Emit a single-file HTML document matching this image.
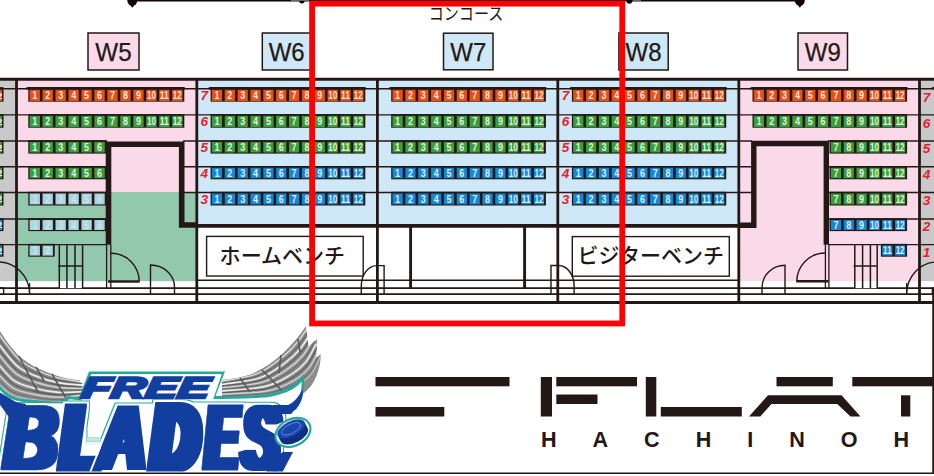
<!DOCTYPE html>
<html lang="ja">
<head>
<meta charset="utf-8">
<title>FLAT HACHINOHE 座席表</title>
<style>
html,body{margin:0;padding:0;background:#fff;}
body{width:934px;height:476px;overflow:hidden;}
svg{display:block;}
text{font-family:"Liberation Sans","Noto Sans CJK JP",sans-serif;}
text.jp{font-family:"Liberation Sans","IPAGothic","Noto Sans CJK JP",sans-serif;}
text.jpr{font-family:"Liberation Sans","Noto Sans CJK JP","IPAGothic",sans-serif;font-weight:400;}
text.jpb{font-family:"Liberation Sans","Noto Sans CJK JP","IPAGothic",sans-serif;font-weight:500;}
</style>
</head>
<body>
<svg width="934" height="476" viewBox="0 0 934 476">
<rect width="934" height="476" fill="#fff"/>
<rect x="0.00" y="79.50" width="16.50" height="214.70" fill="#c9c9c9" />
<rect x="919.50" y="79.50" width="14.50" height="214.70" fill="#c9c9c9" />
<rect x="16.50" y="79.50" width="180.30" height="112.90" fill="#fad9e8" />
<rect x="16.50" y="192.00" width="180.30" height="89.20" fill="#92c8ac" />
<rect x="196.80" y="79.50" width="542.00" height="146.00" fill="#cfe8f8" />
<rect x="738.80" y="79.50" width="180.70" height="201.70" fill="#fad9e8" />
<rect x="0.00" y="281.20" width="16.50" height="30.00" fill="#fff" />
<rect x="919.50" y="281.20" width="14.50" height="30.00" fill="#fff" />
<line x1="0.00" y1="88.80" x2="934.00" y2="88.80" stroke="#231815" stroke-width="1.4" />
<line x1="0.00" y1="114.85" x2="934.00" y2="114.85" stroke="#231815" stroke-width="1.4" />
<line x1="0.00" y1="141.00" x2="107.00" y2="141.00" stroke="#231815" stroke-width="1.4" />
<line x1="183.00" y1="141.00" x2="752.00" y2="141.00" stroke="#231815" stroke-width="1.4" />
<line x1="828.00" y1="141.00" x2="934.00" y2="141.00" stroke="#231815" stroke-width="1.4" />
<line x1="0.00" y1="166.80" x2="107.00" y2="166.80" stroke="#231815" stroke-width="1.4" />
<line x1="183.00" y1="166.80" x2="752.00" y2="166.80" stroke="#231815" stroke-width="1.4" />
<line x1="828.00" y1="166.80" x2="934.00" y2="166.80" stroke="#231815" stroke-width="1.4" />
<line x1="0.00" y1="192.50" x2="107.00" y2="192.50" stroke="#231815" stroke-width="1.4" />
<line x1="183.00" y1="192.50" x2="752.00" y2="192.50" stroke="#231815" stroke-width="1.4" />
<line x1="828.00" y1="192.50" x2="934.00" y2="192.50" stroke="#231815" stroke-width="1.4" />
<line x1="0.00" y1="219.00" x2="107.00" y2="219.00" stroke="#231815" stroke-width="1.4" />
<line x1="828.00" y1="219.00" x2="934.00" y2="219.00" stroke="#231815" stroke-width="1.4" />
<line x1="0.00" y1="244.60" x2="107.00" y2="244.60" stroke="#231815" stroke-width="1.4" />
<line x1="828.00" y1="244.60" x2="934.00" y2="244.60" stroke="#231815" stroke-width="1.4" />
<rect x="-5.00" y="87.10" width="8.50" height="14.60" fill="#231815" />
<rect x="-5.00" y="89.80" width="7.00" height="11.30" fill="#ea5014" />
<text x="-2.6" y="98.85" font-size="9.6" fill="#fff" font-weight="700" textLength="4.7" lengthAdjust="spacingAndGlyphs">2</text>
<rect x="-5.00" y="114.10" width="8.50" height="13.65" fill="#231815" />
<rect x="-5.00" y="115.85" width="7.00" height="11.30" fill="#3a9f3b" />
<text x="-2.6" y="124.90" font-size="9.6" fill="#fff" font-weight="700" textLength="4.7" lengthAdjust="spacingAndGlyphs">2</text>
<rect x="-5.00" y="140.25" width="8.50" height="13.35" fill="#231815" />
<rect x="-5.00" y="142.00" width="7.00" height="10.50" fill="#3a9f3b" />
<text x="-2.6" y="150.65" font-size="9.6" fill="#fff" font-weight="700" textLength="4.7" lengthAdjust="spacingAndGlyphs">2</text>
<rect x="-5.00" y="166.05" width="8.50" height="13.25" fill="#231815" />
<rect x="-5.00" y="167.80" width="7.00" height="10.40" fill="#3a9f3b" />
<text x="-2.6" y="176.40" font-size="9.6" fill="#fff" font-weight="700" textLength="4.7" lengthAdjust="spacingAndGlyphs">2</text>
<rect x="-5.00" y="191.75" width="8.50" height="13.75" fill="#231815" />
<rect x="-5.00" y="193.50" width="7.00" height="10.90" fill="#3a9f3b" />
<text x="-2.6" y="202.35" font-size="9.6" fill="#fff" font-weight="700" textLength="4.7" lengthAdjust="spacingAndGlyphs">2</text>
<rect x="-5.00" y="218.25" width="8.50" height="12.85" fill="#231815" />
<rect x="-5.00" y="220.00" width="7.00" height="10.00" fill="#1488d8" />
<text x="-2.6" y="228.40" font-size="9.6" fill="#fff" font-weight="700" textLength="4.7" lengthAdjust="spacingAndGlyphs">2</text>
<rect x="-5.00" y="243.85" width="8.50" height="12.85" fill="#231815" />
<rect x="-5.00" y="245.60" width="7.00" height="10.00" fill="#1488d8" />
<text x="-2.6" y="254.00" font-size="9.6" fill="#fff" font-weight="700" textLength="4.7" lengthAdjust="spacingAndGlyphs">2</text>
<rect x="28.30" y="87.10" width="156.02" height="14.60" fill="#231815" />
<rect x="26.40" y="87.10" width="158.32" height="2.50" fill="#231815" />
<rect x="29.60" y="89.80" width="10.31" height="11.30" fill="#ea5014" />
<text x="32.26" y="99.10" font-size="10.2" fill="#fff" fill-opacity="0.88" font-weight="700" textLength="5.0" lengthAdjust="spacingAndGlyphs">1</text>
<rect x="42.56" y="89.80" width="10.31" height="11.30" fill="#ea5014" />
<text x="45.22" y="99.10" font-size="10.2" fill="#fff" fill-opacity="0.88" font-weight="700" textLength="5.0" lengthAdjust="spacingAndGlyphs">2</text>
<rect x="55.52" y="89.80" width="10.31" height="11.30" fill="#ea5014" />
<text x="58.18" y="99.10" font-size="10.2" fill="#fff" fill-opacity="0.88" font-weight="700" textLength="5.0" lengthAdjust="spacingAndGlyphs">3</text>
<rect x="68.48" y="89.80" width="10.31" height="11.30" fill="#ea5014" />
<text x="71.14" y="99.10" font-size="10.2" fill="#fff" fill-opacity="0.88" font-weight="700" textLength="5.0" lengthAdjust="spacingAndGlyphs">4</text>
<rect x="81.44" y="89.80" width="10.31" height="11.30" fill="#ea5014" />
<text x="84.09" y="99.10" font-size="10.2" fill="#fff" fill-opacity="0.88" font-weight="700" textLength="5.0" lengthAdjust="spacingAndGlyphs">5</text>
<rect x="94.40" y="89.80" width="10.31" height="11.30" fill="#ea5014" />
<text x="97.06" y="99.10" font-size="10.2" fill="#fff" fill-opacity="0.88" font-weight="700" textLength="5.0" lengthAdjust="spacingAndGlyphs">6</text>
<rect x="107.36" y="89.80" width="10.31" height="11.30" fill="#ea5014" />
<text x="110.02" y="99.10" font-size="10.2" fill="#fff" fill-opacity="0.88" font-weight="700" textLength="5.0" lengthAdjust="spacingAndGlyphs">7</text>
<rect x="120.32" y="89.80" width="10.31" height="11.30" fill="#ea5014" />
<text x="122.97" y="99.10" font-size="10.2" fill="#fff" fill-opacity="0.88" font-weight="700" textLength="5.0" lengthAdjust="spacingAndGlyphs">8</text>
<rect x="133.28" y="89.80" width="10.31" height="11.30" fill="#ea5014" />
<text x="135.94" y="99.10" font-size="10.2" fill="#fff" fill-opacity="0.88" font-weight="700" textLength="5.0" lengthAdjust="spacingAndGlyphs">9</text>
<rect x="146.24" y="89.80" width="10.31" height="11.30" fill="#ea5014" />
<text x="146.90" y="99.10" font-size="10.2" fill="#fff" fill-opacity="0.88" font-weight="700" textLength="9.0" lengthAdjust="spacingAndGlyphs">10</text>
<rect x="159.20" y="89.80" width="10.31" height="11.30" fill="#ea5014" />
<text x="159.86" y="99.10" font-size="10.2" fill="#fff" fill-opacity="0.88" font-weight="700" textLength="9.0" lengthAdjust="spacingAndGlyphs">11</text>
<rect x="172.16" y="89.80" width="10.31" height="11.30" fill="#ea5014" />
<text x="172.81" y="99.10" font-size="10.2" fill="#fff" fill-opacity="0.88" font-weight="700" textLength="9.0" lengthAdjust="spacingAndGlyphs">12</text>
<rect x="28.30" y="114.10" width="156.02" height="13.65" fill="#231815" />
<rect x="29.60" y="115.85" width="10.31" height="11.30" fill="#3a9f3b" />
<text x="32.26" y="125.15" font-size="10.2" fill="#fff" fill-opacity="0.88" font-weight="700" textLength="5.0" lengthAdjust="spacingAndGlyphs">1</text>
<rect x="42.56" y="115.85" width="10.31" height="11.30" fill="#3a9f3b" />
<text x="45.22" y="125.15" font-size="10.2" fill="#fff" fill-opacity="0.88" font-weight="700" textLength="5.0" lengthAdjust="spacingAndGlyphs">2</text>
<rect x="55.52" y="115.85" width="10.31" height="11.30" fill="#3a9f3b" />
<text x="58.18" y="125.15" font-size="10.2" fill="#fff" fill-opacity="0.88" font-weight="700" textLength="5.0" lengthAdjust="spacingAndGlyphs">3</text>
<rect x="68.48" y="115.85" width="10.31" height="11.30" fill="#3a9f3b" />
<text x="71.14" y="125.15" font-size="10.2" fill="#fff" fill-opacity="0.88" font-weight="700" textLength="5.0" lengthAdjust="spacingAndGlyphs">4</text>
<rect x="81.44" y="115.85" width="10.31" height="11.30" fill="#3a9f3b" />
<text x="84.09" y="125.15" font-size="10.2" fill="#fff" fill-opacity="0.88" font-weight="700" textLength="5.0" lengthAdjust="spacingAndGlyphs">5</text>
<rect x="94.40" y="115.85" width="10.31" height="11.30" fill="#3a9f3b" />
<text x="97.06" y="125.15" font-size="10.2" fill="#fff" fill-opacity="0.88" font-weight="700" textLength="5.0" lengthAdjust="spacingAndGlyphs">6</text>
<rect x="107.36" y="115.85" width="10.31" height="11.30" fill="#3a9f3b" />
<text x="110.02" y="125.15" font-size="10.2" fill="#fff" fill-opacity="0.88" font-weight="700" textLength="5.0" lengthAdjust="spacingAndGlyphs">7</text>
<rect x="120.32" y="115.85" width="10.31" height="11.30" fill="#3a9f3b" />
<text x="122.97" y="125.15" font-size="10.2" fill="#fff" fill-opacity="0.88" font-weight="700" textLength="5.0" lengthAdjust="spacingAndGlyphs">8</text>
<rect x="133.28" y="115.85" width="10.31" height="11.30" fill="#3a9f3b" />
<text x="135.94" y="125.15" font-size="10.2" fill="#fff" fill-opacity="0.88" font-weight="700" textLength="5.0" lengthAdjust="spacingAndGlyphs">9</text>
<rect x="146.24" y="115.85" width="10.31" height="11.30" fill="#3a9f3b" />
<text x="146.90" y="125.15" font-size="10.2" fill="#fff" fill-opacity="0.88" font-weight="700" textLength="9.0" lengthAdjust="spacingAndGlyphs">10</text>
<rect x="159.20" y="115.85" width="10.31" height="11.30" fill="#3a9f3b" />
<text x="159.86" y="125.15" font-size="10.2" fill="#fff" fill-opacity="0.88" font-weight="700" textLength="9.0" lengthAdjust="spacingAndGlyphs">11</text>
<rect x="172.16" y="115.85" width="10.31" height="11.30" fill="#3a9f3b" />
<text x="172.81" y="125.15" font-size="10.2" fill="#fff" fill-opacity="0.88" font-weight="700" textLength="9.0" lengthAdjust="spacingAndGlyphs">12</text>
<rect x="28.30" y="140.25" width="78.26" height="13.35" fill="#231815" />
<rect x="29.60" y="142.00" width="10.31" height="10.50" fill="#3a9f3b" />
<text x="32.26" y="150.90" font-size="10.2" fill="#fff" fill-opacity="0.88" font-weight="700" textLength="5.0" lengthAdjust="spacingAndGlyphs">1</text>
<rect x="42.56" y="142.00" width="10.31" height="10.50" fill="#3a9f3b" />
<text x="45.22" y="150.90" font-size="10.2" fill="#fff" fill-opacity="0.88" font-weight="700" textLength="5.0" lengthAdjust="spacingAndGlyphs">2</text>
<rect x="55.52" y="142.00" width="10.31" height="10.50" fill="#3a9f3b" />
<text x="58.18" y="150.90" font-size="10.2" fill="#fff" fill-opacity="0.88" font-weight="700" textLength="5.0" lengthAdjust="spacingAndGlyphs">3</text>
<rect x="68.48" y="142.00" width="10.31" height="10.50" fill="#3a9f3b" />
<text x="71.14" y="150.90" font-size="10.2" fill="#fff" fill-opacity="0.88" font-weight="700" textLength="5.0" lengthAdjust="spacingAndGlyphs">4</text>
<rect x="81.44" y="142.00" width="10.31" height="10.50" fill="#3a9f3b" />
<text x="84.09" y="150.90" font-size="10.2" fill="#fff" fill-opacity="0.88" font-weight="700" textLength="5.0" lengthAdjust="spacingAndGlyphs">5</text>
<rect x="94.40" y="142.00" width="10.31" height="10.50" fill="#3a9f3b" />
<text x="97.06" y="150.90" font-size="10.2" fill="#fff" fill-opacity="0.88" font-weight="700" textLength="5.0" lengthAdjust="spacingAndGlyphs">6</text>
<rect x="28.30" y="166.05" width="78.26" height="13.25" fill="#231815" />
<rect x="29.60" y="167.80" width="10.31" height="10.40" fill="#3a9f3b" />
<text x="32.26" y="176.65" font-size="10.2" fill="#fff" fill-opacity="0.88" font-weight="700" textLength="5.0" lengthAdjust="spacingAndGlyphs">1</text>
<rect x="42.56" y="167.80" width="10.31" height="10.40" fill="#3a9f3b" />
<text x="45.22" y="176.65" font-size="10.2" fill="#fff" fill-opacity="0.88" font-weight="700" textLength="5.0" lengthAdjust="spacingAndGlyphs">2</text>
<rect x="55.52" y="167.80" width="10.31" height="10.40" fill="#3a9f3b" />
<text x="58.18" y="176.65" font-size="10.2" fill="#fff" fill-opacity="0.88" font-weight="700" textLength="5.0" lengthAdjust="spacingAndGlyphs">3</text>
<rect x="68.48" y="167.80" width="10.31" height="10.40" fill="#3a9f3b" />
<text x="71.14" y="176.65" font-size="10.2" fill="#fff" fill-opacity="0.88" font-weight="700" textLength="5.0" lengthAdjust="spacingAndGlyphs">4</text>
<rect x="81.44" y="167.80" width="10.31" height="10.40" fill="#3a9f3b" />
<text x="84.09" y="176.65" font-size="10.2" fill="#fff" fill-opacity="0.88" font-weight="700" textLength="5.0" lengthAdjust="spacingAndGlyphs">5</text>
<rect x="94.40" y="167.80" width="10.31" height="10.40" fill="#3a9f3b" />
<text x="97.06" y="176.65" font-size="10.2" fill="#fff" fill-opacity="0.88" font-weight="700" textLength="5.0" lengthAdjust="spacingAndGlyphs">6</text>
<rect x="28.30" y="191.75" width="78.26" height="13.75" fill="#231815" />
<rect x="29.60" y="193.50" width="10.31" height="10.90" fill="#a6d4e0" />
<text x="32.26" y="202.60" font-size="10.2" fill="#d8e6ea" fill-opacity="0.88" font-weight="700" textLength="5.0" lengthAdjust="spacingAndGlyphs">1</text>
<rect x="42.56" y="193.50" width="10.31" height="10.90" fill="#a6d4e0" />
<text x="45.22" y="202.60" font-size="10.2" fill="#d8e6ea" fill-opacity="0.88" font-weight="700" textLength="5.0" lengthAdjust="spacingAndGlyphs">2</text>
<rect x="55.52" y="193.50" width="10.31" height="10.90" fill="#a6d4e0" />
<text x="58.18" y="202.60" font-size="10.2" fill="#d8e6ea" fill-opacity="0.88" font-weight="700" textLength="5.0" lengthAdjust="spacingAndGlyphs">3</text>
<rect x="68.48" y="193.50" width="10.31" height="10.90" fill="#a6d4e0" />
<text x="71.14" y="202.60" font-size="10.2" fill="#d8e6ea" fill-opacity="0.88" font-weight="700" textLength="5.0" lengthAdjust="spacingAndGlyphs">4</text>
<rect x="81.44" y="193.50" width="10.31" height="10.90" fill="#a6d4e0" />
<text x="84.09" y="202.60" font-size="10.2" fill="#d8e6ea" fill-opacity="0.88" font-weight="700" textLength="5.0" lengthAdjust="spacingAndGlyphs">5</text>
<rect x="94.40" y="193.50" width="10.31" height="10.90" fill="#a6d4e0" />
<text x="97.06" y="202.60" font-size="10.2" fill="#d8e6ea" fill-opacity="0.88" font-weight="700" textLength="5.0" lengthAdjust="spacingAndGlyphs">6</text>
<rect x="28.30" y="218.25" width="78.26" height="12.85" fill="#231815" />
<rect x="29.60" y="220.00" width="10.31" height="10.00" fill="#a6d4e0" />
<text x="32.26" y="228.65" font-size="10.2" fill="#d8e6ea" fill-opacity="0.88" font-weight="700" textLength="5.0" lengthAdjust="spacingAndGlyphs">1</text>
<rect x="42.56" y="220.00" width="10.31" height="10.00" fill="#a6d4e0" />
<text x="45.22" y="228.65" font-size="10.2" fill="#d8e6ea" fill-opacity="0.88" font-weight="700" textLength="5.0" lengthAdjust="spacingAndGlyphs">2</text>
<rect x="55.52" y="220.00" width="10.31" height="10.00" fill="#a6d4e0" />
<text x="58.18" y="228.65" font-size="10.2" fill="#d8e6ea" fill-opacity="0.88" font-weight="700" textLength="5.0" lengthAdjust="spacingAndGlyphs">3</text>
<rect x="68.48" y="220.00" width="10.31" height="10.00" fill="#a6d4e0" />
<text x="71.14" y="228.65" font-size="10.2" fill="#d8e6ea" fill-opacity="0.88" font-weight="700" textLength="5.0" lengthAdjust="spacingAndGlyphs">4</text>
<rect x="81.44" y="220.00" width="10.31" height="10.00" fill="#a6d4e0" />
<text x="84.09" y="228.65" font-size="10.2" fill="#d8e6ea" fill-opacity="0.88" font-weight="700" textLength="5.0" lengthAdjust="spacingAndGlyphs">5</text>
<rect x="94.40" y="220.00" width="10.31" height="10.00" fill="#a6d4e0" />
<text x="97.06" y="228.65" font-size="10.2" fill="#d8e6ea" fill-opacity="0.88" font-weight="700" textLength="5.0" lengthAdjust="spacingAndGlyphs">6</text>
<rect x="28.30" y="243.85" width="26.42" height="12.85" fill="#231815" />
<rect x="29.60" y="245.60" width="10.31" height="10.00" fill="#a6d4e0" />
<text x="32.26" y="254.25" font-size="10.2" fill="#d8e6ea" fill-opacity="0.88" font-weight="700" textLength="5.0" lengthAdjust="spacingAndGlyphs">1</text>
<rect x="42.56" y="245.60" width="10.31" height="10.00" fill="#a6d4e0" />
<text x="45.22" y="254.25" font-size="10.2" fill="#d8e6ea" fill-opacity="0.88" font-weight="700" textLength="5.0" lengthAdjust="spacingAndGlyphs">2</text>
<rect x="210.60" y="87.10" width="154.70" height="14.60" fill="#231815" />
<rect x="208.70" y="87.10" width="157.00" height="2.50" fill="#231815" />
<rect x="211.90" y="89.80" width="10.20" height="11.30" fill="#ea5014" />
<text x="214.50" y="99.10" font-size="10.2" fill="#fff" fill-opacity="0.88" font-weight="700" textLength="5.0" lengthAdjust="spacingAndGlyphs">1</text>
<rect x="224.75" y="89.80" width="10.20" height="11.30" fill="#ea5014" />
<text x="227.35" y="99.10" font-size="10.2" fill="#fff" fill-opacity="0.88" font-weight="700" textLength="5.0" lengthAdjust="spacingAndGlyphs">2</text>
<rect x="237.60" y="89.80" width="10.20" height="11.30" fill="#ea5014" />
<text x="240.20" y="99.10" font-size="10.2" fill="#fff" fill-opacity="0.88" font-weight="700" textLength="5.0" lengthAdjust="spacingAndGlyphs">3</text>
<rect x="250.45" y="89.80" width="10.20" height="11.30" fill="#ea5014" />
<text x="253.05" y="99.10" font-size="10.2" fill="#fff" fill-opacity="0.88" font-weight="700" textLength="5.0" lengthAdjust="spacingAndGlyphs">4</text>
<rect x="263.30" y="89.80" width="10.20" height="11.30" fill="#ea5014" />
<text x="265.90" y="99.10" font-size="10.2" fill="#fff" fill-opacity="0.88" font-weight="700" textLength="5.0" lengthAdjust="spacingAndGlyphs">5</text>
<rect x="276.15" y="89.80" width="10.20" height="11.30" fill="#ea5014" />
<text x="278.75" y="99.10" font-size="10.2" fill="#fff" fill-opacity="0.88" font-weight="700" textLength="5.0" lengthAdjust="spacingAndGlyphs">6</text>
<rect x="289.00" y="89.80" width="10.20" height="11.30" fill="#ea5014" />
<text x="291.60" y="99.10" font-size="10.2" fill="#fff" fill-opacity="0.88" font-weight="700" textLength="5.0" lengthAdjust="spacingAndGlyphs">7</text>
<rect x="301.85" y="89.80" width="10.20" height="11.30" fill="#ea5014" />
<text x="304.45" y="99.10" font-size="10.2" fill="#fff" fill-opacity="0.88" font-weight="700" textLength="5.0" lengthAdjust="spacingAndGlyphs">8</text>
<rect x="314.70" y="89.80" width="10.20" height="11.30" fill="#ea5014" />
<text x="317.30" y="99.10" font-size="10.2" fill="#fff" fill-opacity="0.88" font-weight="700" textLength="5.0" lengthAdjust="spacingAndGlyphs">9</text>
<rect x="327.55" y="89.80" width="10.20" height="11.30" fill="#ea5014" />
<text x="328.15" y="99.10" font-size="10.2" fill="#fff" fill-opacity="0.88" font-weight="700" textLength="9.0" lengthAdjust="spacingAndGlyphs">10</text>
<rect x="340.40" y="89.80" width="10.20" height="11.30" fill="#ea5014" />
<text x="341.00" y="99.10" font-size="10.2" fill="#fff" fill-opacity="0.88" font-weight="700" textLength="9.0" lengthAdjust="spacingAndGlyphs">11</text>
<rect x="353.25" y="89.80" width="10.20" height="11.30" fill="#ea5014" />
<text x="353.85" y="99.10" font-size="10.2" fill="#fff" fill-opacity="0.88" font-weight="700" textLength="9.0" lengthAdjust="spacingAndGlyphs">12</text>
<text x="204.20" y="100.35" font-size="13.6" fill="#ec1c2e" font-weight="700" font-style="italic" text-anchor="middle">7</text>
<rect x="210.60" y="114.10" width="154.70" height="13.65" fill="#231815" />
<rect x="211.90" y="115.85" width="10.20" height="11.30" fill="#3a9f3b" />
<text x="214.50" y="125.15" font-size="10.2" fill="#fff" fill-opacity="0.88" font-weight="700" textLength="5.0" lengthAdjust="spacingAndGlyphs">1</text>
<rect x="224.75" y="115.85" width="10.20" height="11.30" fill="#3a9f3b" />
<text x="227.35" y="125.15" font-size="10.2" fill="#fff" fill-opacity="0.88" font-weight="700" textLength="5.0" lengthAdjust="spacingAndGlyphs">2</text>
<rect x="237.60" y="115.85" width="10.20" height="11.30" fill="#3a9f3b" />
<text x="240.20" y="125.15" font-size="10.2" fill="#fff" fill-opacity="0.88" font-weight="700" textLength="5.0" lengthAdjust="spacingAndGlyphs">3</text>
<rect x="250.45" y="115.85" width="10.20" height="11.30" fill="#3a9f3b" />
<text x="253.05" y="125.15" font-size="10.2" fill="#fff" fill-opacity="0.88" font-weight="700" textLength="5.0" lengthAdjust="spacingAndGlyphs">4</text>
<rect x="263.30" y="115.85" width="10.20" height="11.30" fill="#3a9f3b" />
<text x="265.90" y="125.15" font-size="10.2" fill="#fff" fill-opacity="0.88" font-weight="700" textLength="5.0" lengthAdjust="spacingAndGlyphs">5</text>
<rect x="276.15" y="115.85" width="10.20" height="11.30" fill="#3a9f3b" />
<text x="278.75" y="125.15" font-size="10.2" fill="#fff" fill-opacity="0.88" font-weight="700" textLength="5.0" lengthAdjust="spacingAndGlyphs">6</text>
<rect x="289.00" y="115.85" width="10.20" height="11.30" fill="#3a9f3b" />
<text x="291.60" y="125.15" font-size="10.2" fill="#fff" fill-opacity="0.88" font-weight="700" textLength="5.0" lengthAdjust="spacingAndGlyphs">7</text>
<rect x="301.85" y="115.85" width="10.20" height="11.30" fill="#3a9f3b" />
<text x="304.45" y="125.15" font-size="10.2" fill="#fff" fill-opacity="0.88" font-weight="700" textLength="5.0" lengthAdjust="spacingAndGlyphs">8</text>
<rect x="314.70" y="115.85" width="10.20" height="11.30" fill="#3a9f3b" />
<text x="317.30" y="125.15" font-size="10.2" fill="#fff" fill-opacity="0.88" font-weight="700" textLength="5.0" lengthAdjust="spacingAndGlyphs">9</text>
<rect x="327.55" y="115.85" width="10.20" height="11.30" fill="#3a9f3b" />
<text x="328.15" y="125.15" font-size="10.2" fill="#fff" fill-opacity="0.88" font-weight="700" textLength="9.0" lengthAdjust="spacingAndGlyphs">10</text>
<rect x="340.40" y="115.85" width="10.20" height="11.30" fill="#3a9f3b" />
<text x="341.00" y="125.15" font-size="10.2" fill="#fff" fill-opacity="0.88" font-weight="700" textLength="9.0" lengthAdjust="spacingAndGlyphs">11</text>
<rect x="353.25" y="115.85" width="10.20" height="11.30" fill="#3a9f3b" />
<text x="353.85" y="125.15" font-size="10.2" fill="#fff" fill-opacity="0.88" font-weight="700" textLength="9.0" lengthAdjust="spacingAndGlyphs">12</text>
<text x="204.20" y="126.40" font-size="13.6" fill="#ec1c2e" font-weight="700" font-style="italic" text-anchor="middle">6</text>
<rect x="210.60" y="140.25" width="154.70" height="13.35" fill="#231815" />
<rect x="211.90" y="142.00" width="10.20" height="10.50" fill="#3a9f3b" />
<text x="214.50" y="150.90" font-size="10.2" fill="#fff" fill-opacity="0.88" font-weight="700" textLength="5.0" lengthAdjust="spacingAndGlyphs">1</text>
<rect x="224.75" y="142.00" width="10.20" height="10.50" fill="#3a9f3b" />
<text x="227.35" y="150.90" font-size="10.2" fill="#fff" fill-opacity="0.88" font-weight="700" textLength="5.0" lengthAdjust="spacingAndGlyphs">2</text>
<rect x="237.60" y="142.00" width="10.20" height="10.50" fill="#3a9f3b" />
<text x="240.20" y="150.90" font-size="10.2" fill="#fff" fill-opacity="0.88" font-weight="700" textLength="5.0" lengthAdjust="spacingAndGlyphs">3</text>
<rect x="250.45" y="142.00" width="10.20" height="10.50" fill="#3a9f3b" />
<text x="253.05" y="150.90" font-size="10.2" fill="#fff" fill-opacity="0.88" font-weight="700" textLength="5.0" lengthAdjust="spacingAndGlyphs">4</text>
<rect x="263.30" y="142.00" width="10.20" height="10.50" fill="#3a9f3b" />
<text x="265.90" y="150.90" font-size="10.2" fill="#fff" fill-opacity="0.88" font-weight="700" textLength="5.0" lengthAdjust="spacingAndGlyphs">5</text>
<rect x="276.15" y="142.00" width="10.20" height="10.50" fill="#3a9f3b" />
<text x="278.75" y="150.90" font-size="10.2" fill="#fff" fill-opacity="0.88" font-weight="700" textLength="5.0" lengthAdjust="spacingAndGlyphs">6</text>
<rect x="289.00" y="142.00" width="10.20" height="10.50" fill="#3a9f3b" />
<text x="291.60" y="150.90" font-size="10.2" fill="#fff" fill-opacity="0.88" font-weight="700" textLength="5.0" lengthAdjust="spacingAndGlyphs">7</text>
<rect x="301.85" y="142.00" width="10.20" height="10.50" fill="#3a9f3b" />
<text x="304.45" y="150.90" font-size="10.2" fill="#fff" fill-opacity="0.88" font-weight="700" textLength="5.0" lengthAdjust="spacingAndGlyphs">8</text>
<rect x="314.70" y="142.00" width="10.20" height="10.50" fill="#3a9f3b" />
<text x="317.30" y="150.90" font-size="10.2" fill="#fff" fill-opacity="0.88" font-weight="700" textLength="5.0" lengthAdjust="spacingAndGlyphs">9</text>
<rect x="327.55" y="142.00" width="10.20" height="10.50" fill="#3a9f3b" />
<text x="328.15" y="150.90" font-size="10.2" fill="#fff" fill-opacity="0.88" font-weight="700" textLength="9.0" lengthAdjust="spacingAndGlyphs">10</text>
<rect x="340.40" y="142.00" width="10.20" height="10.50" fill="#3a9f3b" />
<text x="341.00" y="150.90" font-size="10.2" fill="#fff" fill-opacity="0.88" font-weight="700" textLength="9.0" lengthAdjust="spacingAndGlyphs">11</text>
<rect x="353.25" y="142.00" width="10.20" height="10.50" fill="#3a9f3b" />
<text x="353.85" y="150.90" font-size="10.2" fill="#fff" fill-opacity="0.88" font-weight="700" textLength="9.0" lengthAdjust="spacingAndGlyphs">12</text>
<text x="204.20" y="152.15" font-size="13.6" fill="#ec1c2e" font-weight="700" font-style="italic" text-anchor="middle">5</text>
<rect x="210.60" y="166.05" width="154.70" height="13.25" fill="#231815" />
<rect x="211.90" y="167.80" width="10.20" height="10.40" fill="#1488d8" />
<text x="214.50" y="176.65" font-size="10.2" fill="#fff" fill-opacity="0.88" font-weight="700" textLength="5.0" lengthAdjust="spacingAndGlyphs">1</text>
<rect x="224.75" y="167.80" width="10.20" height="10.40" fill="#1488d8" />
<text x="227.35" y="176.65" font-size="10.2" fill="#fff" fill-opacity="0.88" font-weight="700" textLength="5.0" lengthAdjust="spacingAndGlyphs">2</text>
<rect x="237.60" y="167.80" width="10.20" height="10.40" fill="#1488d8" />
<text x="240.20" y="176.65" font-size="10.2" fill="#fff" fill-opacity="0.88" font-weight="700" textLength="5.0" lengthAdjust="spacingAndGlyphs">3</text>
<rect x="250.45" y="167.80" width="10.20" height="10.40" fill="#1488d8" />
<text x="253.05" y="176.65" font-size="10.2" fill="#fff" fill-opacity="0.88" font-weight="700" textLength="5.0" lengthAdjust="spacingAndGlyphs">4</text>
<rect x="263.30" y="167.80" width="10.20" height="10.40" fill="#1488d8" />
<text x="265.90" y="176.65" font-size="10.2" fill="#fff" fill-opacity="0.88" font-weight="700" textLength="5.0" lengthAdjust="spacingAndGlyphs">5</text>
<rect x="276.15" y="167.80" width="10.20" height="10.40" fill="#1488d8" />
<text x="278.75" y="176.65" font-size="10.2" fill="#fff" fill-opacity="0.88" font-weight="700" textLength="5.0" lengthAdjust="spacingAndGlyphs">6</text>
<rect x="289.00" y="167.80" width="10.20" height="10.40" fill="#1488d8" />
<text x="291.60" y="176.65" font-size="10.2" fill="#fff" fill-opacity="0.88" font-weight="700" textLength="5.0" lengthAdjust="spacingAndGlyphs">7</text>
<rect x="301.85" y="167.80" width="10.20" height="10.40" fill="#1488d8" />
<text x="304.45" y="176.65" font-size="10.2" fill="#fff" fill-opacity="0.88" font-weight="700" textLength="5.0" lengthAdjust="spacingAndGlyphs">8</text>
<rect x="314.70" y="167.80" width="10.20" height="10.40" fill="#1488d8" />
<text x="317.30" y="176.65" font-size="10.2" fill="#fff" fill-opacity="0.88" font-weight="700" textLength="5.0" lengthAdjust="spacingAndGlyphs">9</text>
<rect x="327.55" y="167.80" width="10.20" height="10.40" fill="#1488d8" />
<text x="328.15" y="176.65" font-size="10.2" fill="#fff" fill-opacity="0.88" font-weight="700" textLength="9.0" lengthAdjust="spacingAndGlyphs">10</text>
<rect x="340.40" y="167.80" width="10.20" height="10.40" fill="#1488d8" />
<text x="341.00" y="176.65" font-size="10.2" fill="#fff" fill-opacity="0.88" font-weight="700" textLength="9.0" lengthAdjust="spacingAndGlyphs">11</text>
<rect x="353.25" y="167.80" width="10.20" height="10.40" fill="#1488d8" />
<text x="353.85" y="176.65" font-size="10.2" fill="#fff" fill-opacity="0.88" font-weight="700" textLength="9.0" lengthAdjust="spacingAndGlyphs">12</text>
<text x="204.20" y="177.90" font-size="13.6" fill="#ec1c2e" font-weight="700" font-style="italic" text-anchor="middle">4</text>
<rect x="210.60" y="191.75" width="154.70" height="13.75" fill="#231815" />
<rect x="211.90" y="193.50" width="10.20" height="10.90" fill="#1488d8" />
<text x="214.50" y="202.60" font-size="10.2" fill="#fff" fill-opacity="0.88" font-weight="700" textLength="5.0" lengthAdjust="spacingAndGlyphs">1</text>
<rect x="224.75" y="193.50" width="10.20" height="10.90" fill="#1488d8" />
<text x="227.35" y="202.60" font-size="10.2" fill="#fff" fill-opacity="0.88" font-weight="700" textLength="5.0" lengthAdjust="spacingAndGlyphs">2</text>
<rect x="237.60" y="193.50" width="10.20" height="10.90" fill="#1488d8" />
<text x="240.20" y="202.60" font-size="10.2" fill="#fff" fill-opacity="0.88" font-weight="700" textLength="5.0" lengthAdjust="spacingAndGlyphs">3</text>
<rect x="250.45" y="193.50" width="10.20" height="10.90" fill="#1488d8" />
<text x="253.05" y="202.60" font-size="10.2" fill="#fff" fill-opacity="0.88" font-weight="700" textLength="5.0" lengthAdjust="spacingAndGlyphs">4</text>
<rect x="263.30" y="193.50" width="10.20" height="10.90" fill="#1488d8" />
<text x="265.90" y="202.60" font-size="10.2" fill="#fff" fill-opacity="0.88" font-weight="700" textLength="5.0" lengthAdjust="spacingAndGlyphs">5</text>
<rect x="276.15" y="193.50" width="10.20" height="10.90" fill="#1488d8" />
<text x="278.75" y="202.60" font-size="10.2" fill="#fff" fill-opacity="0.88" font-weight="700" textLength="5.0" lengthAdjust="spacingAndGlyphs">6</text>
<rect x="289.00" y="193.50" width="10.20" height="10.90" fill="#1488d8" />
<text x="291.60" y="202.60" font-size="10.2" fill="#fff" fill-opacity="0.88" font-weight="700" textLength="5.0" lengthAdjust="spacingAndGlyphs">7</text>
<rect x="301.85" y="193.50" width="10.20" height="10.90" fill="#1488d8" />
<text x="304.45" y="202.60" font-size="10.2" fill="#fff" fill-opacity="0.88" font-weight="700" textLength="5.0" lengthAdjust="spacingAndGlyphs">8</text>
<rect x="314.70" y="193.50" width="10.20" height="10.90" fill="#1488d8" />
<text x="317.30" y="202.60" font-size="10.2" fill="#fff" fill-opacity="0.88" font-weight="700" textLength="5.0" lengthAdjust="spacingAndGlyphs">9</text>
<rect x="327.55" y="193.50" width="10.20" height="10.90" fill="#1488d8" />
<text x="328.15" y="202.60" font-size="10.2" fill="#fff" fill-opacity="0.88" font-weight="700" textLength="9.0" lengthAdjust="spacingAndGlyphs">10</text>
<rect x="340.40" y="193.50" width="10.20" height="10.90" fill="#1488d8" />
<text x="341.00" y="202.60" font-size="10.2" fill="#fff" fill-opacity="0.88" font-weight="700" textLength="9.0" lengthAdjust="spacingAndGlyphs">11</text>
<rect x="353.25" y="193.50" width="10.20" height="10.90" fill="#1488d8" />
<text x="353.85" y="202.60" font-size="10.2" fill="#fff" fill-opacity="0.88" font-weight="700" textLength="9.0" lengthAdjust="spacingAndGlyphs">12</text>
<text x="204.20" y="203.85" font-size="13.6" fill="#ec1c2e" font-weight="700" font-style="italic" text-anchor="middle">3</text>
<rect x="391.20" y="87.10" width="154.70" height="14.60" fill="#231815" />
<rect x="389.30" y="87.10" width="157.00" height="2.50" fill="#231815" />
<rect x="392.50" y="89.80" width="10.20" height="11.30" fill="#ea5014" />
<text x="395.10" y="99.10" font-size="10.2" fill="#fff" fill-opacity="0.88" font-weight="700" textLength="5.0" lengthAdjust="spacingAndGlyphs">1</text>
<rect x="405.35" y="89.80" width="10.20" height="11.30" fill="#ea5014" />
<text x="407.95" y="99.10" font-size="10.2" fill="#fff" fill-opacity="0.88" font-weight="700" textLength="5.0" lengthAdjust="spacingAndGlyphs">2</text>
<rect x="418.20" y="89.80" width="10.20" height="11.30" fill="#ea5014" />
<text x="420.80" y="99.10" font-size="10.2" fill="#fff" fill-opacity="0.88" font-weight="700" textLength="5.0" lengthAdjust="spacingAndGlyphs">3</text>
<rect x="431.05" y="89.80" width="10.20" height="11.30" fill="#ea5014" />
<text x="433.65" y="99.10" font-size="10.2" fill="#fff" fill-opacity="0.88" font-weight="700" textLength="5.0" lengthAdjust="spacingAndGlyphs">4</text>
<rect x="443.90" y="89.80" width="10.20" height="11.30" fill="#ea5014" />
<text x="446.50" y="99.10" font-size="10.2" fill="#fff" fill-opacity="0.88" font-weight="700" textLength="5.0" lengthAdjust="spacingAndGlyphs">5</text>
<rect x="456.75" y="89.80" width="10.20" height="11.30" fill="#ea5014" />
<text x="459.35" y="99.10" font-size="10.2" fill="#fff" fill-opacity="0.88" font-weight="700" textLength="5.0" lengthAdjust="spacingAndGlyphs">6</text>
<rect x="469.60" y="89.80" width="10.20" height="11.30" fill="#ea5014" />
<text x="472.20" y="99.10" font-size="10.2" fill="#fff" fill-opacity="0.88" font-weight="700" textLength="5.0" lengthAdjust="spacingAndGlyphs">7</text>
<rect x="482.45" y="89.80" width="10.20" height="11.30" fill="#ea5014" />
<text x="485.05" y="99.10" font-size="10.2" fill="#fff" fill-opacity="0.88" font-weight="700" textLength="5.0" lengthAdjust="spacingAndGlyphs">8</text>
<rect x="495.30" y="89.80" width="10.20" height="11.30" fill="#ea5014" />
<text x="497.90" y="99.10" font-size="10.2" fill="#fff" fill-opacity="0.88" font-weight="700" textLength="5.0" lengthAdjust="spacingAndGlyphs">9</text>
<rect x="508.15" y="89.80" width="10.20" height="11.30" fill="#ea5014" />
<text x="508.75" y="99.10" font-size="10.2" fill="#fff" fill-opacity="0.88" font-weight="700" textLength="9.0" lengthAdjust="spacingAndGlyphs">10</text>
<rect x="521.00" y="89.80" width="10.20" height="11.30" fill="#ea5014" />
<text x="521.60" y="99.10" font-size="10.2" fill="#fff" fill-opacity="0.88" font-weight="700" textLength="9.0" lengthAdjust="spacingAndGlyphs">11</text>
<rect x="533.85" y="89.80" width="10.20" height="11.30" fill="#ea5014" />
<text x="534.45" y="99.10" font-size="10.2" fill="#fff" fill-opacity="0.88" font-weight="700" textLength="9.0" lengthAdjust="spacingAndGlyphs">12</text>
<rect x="391.20" y="114.10" width="154.70" height="13.65" fill="#231815" />
<rect x="392.50" y="115.85" width="10.20" height="11.30" fill="#3a9f3b" />
<text x="395.10" y="125.15" font-size="10.2" fill="#fff" fill-opacity="0.88" font-weight="700" textLength="5.0" lengthAdjust="spacingAndGlyphs">1</text>
<rect x="405.35" y="115.85" width="10.20" height="11.30" fill="#3a9f3b" />
<text x="407.95" y="125.15" font-size="10.2" fill="#fff" fill-opacity="0.88" font-weight="700" textLength="5.0" lengthAdjust="spacingAndGlyphs">2</text>
<rect x="418.20" y="115.85" width="10.20" height="11.30" fill="#3a9f3b" />
<text x="420.80" y="125.15" font-size="10.2" fill="#fff" fill-opacity="0.88" font-weight="700" textLength="5.0" lengthAdjust="spacingAndGlyphs">3</text>
<rect x="431.05" y="115.85" width="10.20" height="11.30" fill="#3a9f3b" />
<text x="433.65" y="125.15" font-size="10.2" fill="#fff" fill-opacity="0.88" font-weight="700" textLength="5.0" lengthAdjust="spacingAndGlyphs">4</text>
<rect x="443.90" y="115.85" width="10.20" height="11.30" fill="#3a9f3b" />
<text x="446.50" y="125.15" font-size="10.2" fill="#fff" fill-opacity="0.88" font-weight="700" textLength="5.0" lengthAdjust="spacingAndGlyphs">5</text>
<rect x="456.75" y="115.85" width="10.20" height="11.30" fill="#3a9f3b" />
<text x="459.35" y="125.15" font-size="10.2" fill="#fff" fill-opacity="0.88" font-weight="700" textLength="5.0" lengthAdjust="spacingAndGlyphs">6</text>
<rect x="469.60" y="115.85" width="10.20" height="11.30" fill="#3a9f3b" />
<text x="472.20" y="125.15" font-size="10.2" fill="#fff" fill-opacity="0.88" font-weight="700" textLength="5.0" lengthAdjust="spacingAndGlyphs">7</text>
<rect x="482.45" y="115.85" width="10.20" height="11.30" fill="#3a9f3b" />
<text x="485.05" y="125.15" font-size="10.2" fill="#fff" fill-opacity="0.88" font-weight="700" textLength="5.0" lengthAdjust="spacingAndGlyphs">8</text>
<rect x="495.30" y="115.85" width="10.20" height="11.30" fill="#3a9f3b" />
<text x="497.90" y="125.15" font-size="10.2" fill="#fff" fill-opacity="0.88" font-weight="700" textLength="5.0" lengthAdjust="spacingAndGlyphs">9</text>
<rect x="508.15" y="115.85" width="10.20" height="11.30" fill="#3a9f3b" />
<text x="508.75" y="125.15" font-size="10.2" fill="#fff" fill-opacity="0.88" font-weight="700" textLength="9.0" lengthAdjust="spacingAndGlyphs">10</text>
<rect x="521.00" y="115.85" width="10.20" height="11.30" fill="#3a9f3b" />
<text x="521.60" y="125.15" font-size="10.2" fill="#fff" fill-opacity="0.88" font-weight="700" textLength="9.0" lengthAdjust="spacingAndGlyphs">11</text>
<rect x="533.85" y="115.85" width="10.20" height="11.30" fill="#3a9f3b" />
<text x="534.45" y="125.15" font-size="10.2" fill="#fff" fill-opacity="0.88" font-weight="700" textLength="9.0" lengthAdjust="spacingAndGlyphs">12</text>
<rect x="391.20" y="140.25" width="154.70" height="13.35" fill="#231815" />
<rect x="392.50" y="142.00" width="10.20" height="10.50" fill="#3a9f3b" />
<text x="395.10" y="150.90" font-size="10.2" fill="#fff" fill-opacity="0.88" font-weight="700" textLength="5.0" lengthAdjust="spacingAndGlyphs">1</text>
<rect x="405.35" y="142.00" width="10.20" height="10.50" fill="#3a9f3b" />
<text x="407.95" y="150.90" font-size="10.2" fill="#fff" fill-opacity="0.88" font-weight="700" textLength="5.0" lengthAdjust="spacingAndGlyphs">2</text>
<rect x="418.20" y="142.00" width="10.20" height="10.50" fill="#3a9f3b" />
<text x="420.80" y="150.90" font-size="10.2" fill="#fff" fill-opacity="0.88" font-weight="700" textLength="5.0" lengthAdjust="spacingAndGlyphs">3</text>
<rect x="431.05" y="142.00" width="10.20" height="10.50" fill="#3a9f3b" />
<text x="433.65" y="150.90" font-size="10.2" fill="#fff" fill-opacity="0.88" font-weight="700" textLength="5.0" lengthAdjust="spacingAndGlyphs">4</text>
<rect x="443.90" y="142.00" width="10.20" height="10.50" fill="#3a9f3b" />
<text x="446.50" y="150.90" font-size="10.2" fill="#fff" fill-opacity="0.88" font-weight="700" textLength="5.0" lengthAdjust="spacingAndGlyphs">5</text>
<rect x="456.75" y="142.00" width="10.20" height="10.50" fill="#3a9f3b" />
<text x="459.35" y="150.90" font-size="10.2" fill="#fff" fill-opacity="0.88" font-weight="700" textLength="5.0" lengthAdjust="spacingAndGlyphs">6</text>
<rect x="469.60" y="142.00" width="10.20" height="10.50" fill="#3a9f3b" />
<text x="472.20" y="150.90" font-size="10.2" fill="#fff" fill-opacity="0.88" font-weight="700" textLength="5.0" lengthAdjust="spacingAndGlyphs">7</text>
<rect x="482.45" y="142.00" width="10.20" height="10.50" fill="#3a9f3b" />
<text x="485.05" y="150.90" font-size="10.2" fill="#fff" fill-opacity="0.88" font-weight="700" textLength="5.0" lengthAdjust="spacingAndGlyphs">8</text>
<rect x="495.30" y="142.00" width="10.20" height="10.50" fill="#3a9f3b" />
<text x="497.90" y="150.90" font-size="10.2" fill="#fff" fill-opacity="0.88" font-weight="700" textLength="5.0" lengthAdjust="spacingAndGlyphs">9</text>
<rect x="508.15" y="142.00" width="10.20" height="10.50" fill="#3a9f3b" />
<text x="508.75" y="150.90" font-size="10.2" fill="#fff" fill-opacity="0.88" font-weight="700" textLength="9.0" lengthAdjust="spacingAndGlyphs">10</text>
<rect x="521.00" y="142.00" width="10.20" height="10.50" fill="#3a9f3b" />
<text x="521.60" y="150.90" font-size="10.2" fill="#fff" fill-opacity="0.88" font-weight="700" textLength="9.0" lengthAdjust="spacingAndGlyphs">11</text>
<rect x="533.85" y="142.00" width="10.20" height="10.50" fill="#3a9f3b" />
<text x="534.45" y="150.90" font-size="10.2" fill="#fff" fill-opacity="0.88" font-weight="700" textLength="9.0" lengthAdjust="spacingAndGlyphs">12</text>
<rect x="391.20" y="166.05" width="154.70" height="13.25" fill="#231815" />
<rect x="392.50" y="167.80" width="10.20" height="10.40" fill="#1488d8" />
<text x="395.10" y="176.65" font-size="10.2" fill="#fff" fill-opacity="0.88" font-weight="700" textLength="5.0" lengthAdjust="spacingAndGlyphs">1</text>
<rect x="405.35" y="167.80" width="10.20" height="10.40" fill="#1488d8" />
<text x="407.95" y="176.65" font-size="10.2" fill="#fff" fill-opacity="0.88" font-weight="700" textLength="5.0" lengthAdjust="spacingAndGlyphs">2</text>
<rect x="418.20" y="167.80" width="10.20" height="10.40" fill="#1488d8" />
<text x="420.80" y="176.65" font-size="10.2" fill="#fff" fill-opacity="0.88" font-weight="700" textLength="5.0" lengthAdjust="spacingAndGlyphs">3</text>
<rect x="431.05" y="167.80" width="10.20" height="10.40" fill="#1488d8" />
<text x="433.65" y="176.65" font-size="10.2" fill="#fff" fill-opacity="0.88" font-weight="700" textLength="5.0" lengthAdjust="spacingAndGlyphs">4</text>
<rect x="443.90" y="167.80" width="10.20" height="10.40" fill="#1488d8" />
<text x="446.50" y="176.65" font-size="10.2" fill="#fff" fill-opacity="0.88" font-weight="700" textLength="5.0" lengthAdjust="spacingAndGlyphs">5</text>
<rect x="456.75" y="167.80" width="10.20" height="10.40" fill="#1488d8" />
<text x="459.35" y="176.65" font-size="10.2" fill="#fff" fill-opacity="0.88" font-weight="700" textLength="5.0" lengthAdjust="spacingAndGlyphs">6</text>
<rect x="469.60" y="167.80" width="10.20" height="10.40" fill="#1488d8" />
<text x="472.20" y="176.65" font-size="10.2" fill="#fff" fill-opacity="0.88" font-weight="700" textLength="5.0" lengthAdjust="spacingAndGlyphs">7</text>
<rect x="482.45" y="167.80" width="10.20" height="10.40" fill="#1488d8" />
<text x="485.05" y="176.65" font-size="10.2" fill="#fff" fill-opacity="0.88" font-weight="700" textLength="5.0" lengthAdjust="spacingAndGlyphs">8</text>
<rect x="495.30" y="167.80" width="10.20" height="10.40" fill="#1488d8" />
<text x="497.90" y="176.65" font-size="10.2" fill="#fff" fill-opacity="0.88" font-weight="700" textLength="5.0" lengthAdjust="spacingAndGlyphs">9</text>
<rect x="508.15" y="167.80" width="10.20" height="10.40" fill="#1488d8" />
<text x="508.75" y="176.65" font-size="10.2" fill="#fff" fill-opacity="0.88" font-weight="700" textLength="9.0" lengthAdjust="spacingAndGlyphs">10</text>
<rect x="521.00" y="167.80" width="10.20" height="10.40" fill="#1488d8" />
<text x="521.60" y="176.65" font-size="10.2" fill="#fff" fill-opacity="0.88" font-weight="700" textLength="9.0" lengthAdjust="spacingAndGlyphs">11</text>
<rect x="533.85" y="167.80" width="10.20" height="10.40" fill="#1488d8" />
<text x="534.45" y="176.65" font-size="10.2" fill="#fff" fill-opacity="0.88" font-weight="700" textLength="9.0" lengthAdjust="spacingAndGlyphs">12</text>
<rect x="391.20" y="191.75" width="154.70" height="13.75" fill="#231815" />
<rect x="392.50" y="193.50" width="10.20" height="10.90" fill="#1488d8" />
<text x="395.10" y="202.60" font-size="10.2" fill="#fff" fill-opacity="0.88" font-weight="700" textLength="5.0" lengthAdjust="spacingAndGlyphs">1</text>
<rect x="405.35" y="193.50" width="10.20" height="10.90" fill="#1488d8" />
<text x="407.95" y="202.60" font-size="10.2" fill="#fff" fill-opacity="0.88" font-weight="700" textLength="5.0" lengthAdjust="spacingAndGlyphs">2</text>
<rect x="418.20" y="193.50" width="10.20" height="10.90" fill="#1488d8" />
<text x="420.80" y="202.60" font-size="10.2" fill="#fff" fill-opacity="0.88" font-weight="700" textLength="5.0" lengthAdjust="spacingAndGlyphs">3</text>
<rect x="431.05" y="193.50" width="10.20" height="10.90" fill="#1488d8" />
<text x="433.65" y="202.60" font-size="10.2" fill="#fff" fill-opacity="0.88" font-weight="700" textLength="5.0" lengthAdjust="spacingAndGlyphs">4</text>
<rect x="443.90" y="193.50" width="10.20" height="10.90" fill="#1488d8" />
<text x="446.50" y="202.60" font-size="10.2" fill="#fff" fill-opacity="0.88" font-weight="700" textLength="5.0" lengthAdjust="spacingAndGlyphs">5</text>
<rect x="456.75" y="193.50" width="10.20" height="10.90" fill="#1488d8" />
<text x="459.35" y="202.60" font-size="10.2" fill="#fff" fill-opacity="0.88" font-weight="700" textLength="5.0" lengthAdjust="spacingAndGlyphs">6</text>
<rect x="469.60" y="193.50" width="10.20" height="10.90" fill="#1488d8" />
<text x="472.20" y="202.60" font-size="10.2" fill="#fff" fill-opacity="0.88" font-weight="700" textLength="5.0" lengthAdjust="spacingAndGlyphs">7</text>
<rect x="482.45" y="193.50" width="10.20" height="10.90" fill="#1488d8" />
<text x="485.05" y="202.60" font-size="10.2" fill="#fff" fill-opacity="0.88" font-weight="700" textLength="5.0" lengthAdjust="spacingAndGlyphs">8</text>
<rect x="495.30" y="193.50" width="10.20" height="10.90" fill="#1488d8" />
<text x="497.90" y="202.60" font-size="10.2" fill="#fff" fill-opacity="0.88" font-weight="700" textLength="5.0" lengthAdjust="spacingAndGlyphs">9</text>
<rect x="508.15" y="193.50" width="10.20" height="10.90" fill="#1488d8" />
<text x="508.75" y="202.60" font-size="10.2" fill="#fff" fill-opacity="0.88" font-weight="700" textLength="9.0" lengthAdjust="spacingAndGlyphs">10</text>
<rect x="521.00" y="193.50" width="10.20" height="10.90" fill="#1488d8" />
<text x="521.60" y="202.60" font-size="10.2" fill="#fff" fill-opacity="0.88" font-weight="700" textLength="9.0" lengthAdjust="spacingAndGlyphs">11</text>
<rect x="533.85" y="193.50" width="10.20" height="10.90" fill="#1488d8" />
<text x="534.45" y="202.60" font-size="10.2" fill="#fff" fill-opacity="0.88" font-weight="700" textLength="9.0" lengthAdjust="spacingAndGlyphs">12</text>
<rect x="571.90" y="87.10" width="154.34" height="14.60" fill="#231815" />
<rect x="570.00" y="87.10" width="156.64" height="2.50" fill="#231815" />
<rect x="573.20" y="89.80" width="10.17" height="11.30" fill="#ea5014" />
<text x="575.78" y="99.10" font-size="10.2" fill="#fff" fill-opacity="0.88" font-weight="700" textLength="5.0" lengthAdjust="spacingAndGlyphs">1</text>
<rect x="586.02" y="89.80" width="10.17" height="11.30" fill="#ea5014" />
<text x="588.61" y="99.10" font-size="10.2" fill="#fff" fill-opacity="0.88" font-weight="700" textLength="5.0" lengthAdjust="spacingAndGlyphs">2</text>
<rect x="598.84" y="89.80" width="10.17" height="11.30" fill="#ea5014" />
<text x="601.42" y="99.10" font-size="10.2" fill="#fff" fill-opacity="0.88" font-weight="700" textLength="5.0" lengthAdjust="spacingAndGlyphs">3</text>
<rect x="611.66" y="89.80" width="10.17" height="11.30" fill="#ea5014" />
<text x="614.25" y="99.10" font-size="10.2" fill="#fff" fill-opacity="0.88" font-weight="700" textLength="5.0" lengthAdjust="spacingAndGlyphs">4</text>
<rect x="624.48" y="89.80" width="10.17" height="11.30" fill="#ea5014" />
<text x="627.06" y="99.10" font-size="10.2" fill="#fff" fill-opacity="0.88" font-weight="700" textLength="5.0" lengthAdjust="spacingAndGlyphs">5</text>
<rect x="637.30" y="89.80" width="10.17" height="11.30" fill="#ea5014" />
<text x="639.88" y="99.10" font-size="10.2" fill="#fff" fill-opacity="0.88" font-weight="700" textLength="5.0" lengthAdjust="spacingAndGlyphs">6</text>
<rect x="650.12" y="89.80" width="10.17" height="11.30" fill="#ea5014" />
<text x="652.70" y="99.10" font-size="10.2" fill="#fff" fill-opacity="0.88" font-weight="700" textLength="5.0" lengthAdjust="spacingAndGlyphs">7</text>
<rect x="662.94" y="89.80" width="10.17" height="11.30" fill="#ea5014" />
<text x="665.52" y="99.10" font-size="10.2" fill="#fff" fill-opacity="0.88" font-weight="700" textLength="5.0" lengthAdjust="spacingAndGlyphs">8</text>
<rect x="675.76" y="89.80" width="10.17" height="11.30" fill="#ea5014" />
<text x="678.35" y="99.10" font-size="10.2" fill="#fff" fill-opacity="0.88" font-weight="700" textLength="5.0" lengthAdjust="spacingAndGlyphs">9</text>
<rect x="688.58" y="89.80" width="10.17" height="11.30" fill="#ea5014" />
<text x="689.16" y="99.10" font-size="10.2" fill="#fff" fill-opacity="0.88" font-weight="700" textLength="9.0" lengthAdjust="spacingAndGlyphs">10</text>
<rect x="701.40" y="89.80" width="10.17" height="11.30" fill="#ea5014" />
<text x="701.98" y="99.10" font-size="10.2" fill="#fff" fill-opacity="0.88" font-weight="700" textLength="9.0" lengthAdjust="spacingAndGlyphs">11</text>
<rect x="714.22" y="89.80" width="10.17" height="11.30" fill="#ea5014" />
<text x="714.80" y="99.10" font-size="10.2" fill="#fff" fill-opacity="0.88" font-weight="700" textLength="9.0" lengthAdjust="spacingAndGlyphs">12</text>
<text x="565.60" y="100.35" font-size="13.6" fill="#ec1c2e" font-weight="700" font-style="italic" text-anchor="middle">7</text>
<rect x="571.90" y="114.10" width="154.34" height="13.65" fill="#231815" />
<rect x="573.20" y="115.85" width="10.17" height="11.30" fill="#3a9f3b" />
<text x="575.78" y="125.15" font-size="10.2" fill="#fff" fill-opacity="0.88" font-weight="700" textLength="5.0" lengthAdjust="spacingAndGlyphs">1</text>
<rect x="586.02" y="115.85" width="10.17" height="11.30" fill="#3a9f3b" />
<text x="588.61" y="125.15" font-size="10.2" fill="#fff" fill-opacity="0.88" font-weight="700" textLength="5.0" lengthAdjust="spacingAndGlyphs">2</text>
<rect x="598.84" y="115.85" width="10.17" height="11.30" fill="#3a9f3b" />
<text x="601.42" y="125.15" font-size="10.2" fill="#fff" fill-opacity="0.88" font-weight="700" textLength="5.0" lengthAdjust="spacingAndGlyphs">3</text>
<rect x="611.66" y="115.85" width="10.17" height="11.30" fill="#3a9f3b" />
<text x="614.25" y="125.15" font-size="10.2" fill="#fff" fill-opacity="0.88" font-weight="700" textLength="5.0" lengthAdjust="spacingAndGlyphs">4</text>
<rect x="624.48" y="115.85" width="10.17" height="11.30" fill="#3a9f3b" />
<text x="627.06" y="125.15" font-size="10.2" fill="#fff" fill-opacity="0.88" font-weight="700" textLength="5.0" lengthAdjust="spacingAndGlyphs">5</text>
<rect x="637.30" y="115.85" width="10.17" height="11.30" fill="#3a9f3b" />
<text x="639.88" y="125.15" font-size="10.2" fill="#fff" fill-opacity="0.88" font-weight="700" textLength="5.0" lengthAdjust="spacingAndGlyphs">6</text>
<rect x="650.12" y="115.85" width="10.17" height="11.30" fill="#3a9f3b" />
<text x="652.70" y="125.15" font-size="10.2" fill="#fff" fill-opacity="0.88" font-weight="700" textLength="5.0" lengthAdjust="spacingAndGlyphs">7</text>
<rect x="662.94" y="115.85" width="10.17" height="11.30" fill="#3a9f3b" />
<text x="665.52" y="125.15" font-size="10.2" fill="#fff" fill-opacity="0.88" font-weight="700" textLength="5.0" lengthAdjust="spacingAndGlyphs">8</text>
<rect x="675.76" y="115.85" width="10.17" height="11.30" fill="#3a9f3b" />
<text x="678.35" y="125.15" font-size="10.2" fill="#fff" fill-opacity="0.88" font-weight="700" textLength="5.0" lengthAdjust="spacingAndGlyphs">9</text>
<rect x="688.58" y="115.85" width="10.17" height="11.30" fill="#3a9f3b" />
<text x="689.16" y="125.15" font-size="10.2" fill="#fff" fill-opacity="0.88" font-weight="700" textLength="9.0" lengthAdjust="spacingAndGlyphs">10</text>
<rect x="701.40" y="115.85" width="10.17" height="11.30" fill="#3a9f3b" />
<text x="701.98" y="125.15" font-size="10.2" fill="#fff" fill-opacity="0.88" font-weight="700" textLength="9.0" lengthAdjust="spacingAndGlyphs">11</text>
<rect x="714.22" y="115.85" width="10.17" height="11.30" fill="#3a9f3b" />
<text x="714.80" y="125.15" font-size="10.2" fill="#fff" fill-opacity="0.88" font-weight="700" textLength="9.0" lengthAdjust="spacingAndGlyphs">12</text>
<text x="565.60" y="126.40" font-size="13.6" fill="#ec1c2e" font-weight="700" font-style="italic" text-anchor="middle">6</text>
<rect x="571.90" y="140.25" width="154.34" height="13.35" fill="#231815" />
<rect x="573.20" y="142.00" width="10.17" height="10.50" fill="#3a9f3b" />
<text x="575.78" y="150.90" font-size="10.2" fill="#fff" fill-opacity="0.88" font-weight="700" textLength="5.0" lengthAdjust="spacingAndGlyphs">1</text>
<rect x="586.02" y="142.00" width="10.17" height="10.50" fill="#3a9f3b" />
<text x="588.61" y="150.90" font-size="10.2" fill="#fff" fill-opacity="0.88" font-weight="700" textLength="5.0" lengthAdjust="spacingAndGlyphs">2</text>
<rect x="598.84" y="142.00" width="10.17" height="10.50" fill="#3a9f3b" />
<text x="601.42" y="150.90" font-size="10.2" fill="#fff" fill-opacity="0.88" font-weight="700" textLength="5.0" lengthAdjust="spacingAndGlyphs">3</text>
<rect x="611.66" y="142.00" width="10.17" height="10.50" fill="#3a9f3b" />
<text x="614.25" y="150.90" font-size="10.2" fill="#fff" fill-opacity="0.88" font-weight="700" textLength="5.0" lengthAdjust="spacingAndGlyphs">4</text>
<rect x="624.48" y="142.00" width="10.17" height="10.50" fill="#3a9f3b" />
<text x="627.06" y="150.90" font-size="10.2" fill="#fff" fill-opacity="0.88" font-weight="700" textLength="5.0" lengthAdjust="spacingAndGlyphs">5</text>
<rect x="637.30" y="142.00" width="10.17" height="10.50" fill="#3a9f3b" />
<text x="639.88" y="150.90" font-size="10.2" fill="#fff" fill-opacity="0.88" font-weight="700" textLength="5.0" lengthAdjust="spacingAndGlyphs">6</text>
<rect x="650.12" y="142.00" width="10.17" height="10.50" fill="#3a9f3b" />
<text x="652.70" y="150.90" font-size="10.2" fill="#fff" fill-opacity="0.88" font-weight="700" textLength="5.0" lengthAdjust="spacingAndGlyphs">7</text>
<rect x="662.94" y="142.00" width="10.17" height="10.50" fill="#3a9f3b" />
<text x="665.52" y="150.90" font-size="10.2" fill="#fff" fill-opacity="0.88" font-weight="700" textLength="5.0" lengthAdjust="spacingAndGlyphs">8</text>
<rect x="675.76" y="142.00" width="10.17" height="10.50" fill="#3a9f3b" />
<text x="678.35" y="150.90" font-size="10.2" fill="#fff" fill-opacity="0.88" font-weight="700" textLength="5.0" lengthAdjust="spacingAndGlyphs">9</text>
<rect x="688.58" y="142.00" width="10.17" height="10.50" fill="#3a9f3b" />
<text x="689.16" y="150.90" font-size="10.2" fill="#fff" fill-opacity="0.88" font-weight="700" textLength="9.0" lengthAdjust="spacingAndGlyphs">10</text>
<rect x="701.40" y="142.00" width="10.17" height="10.50" fill="#3a9f3b" />
<text x="701.98" y="150.90" font-size="10.2" fill="#fff" fill-opacity="0.88" font-weight="700" textLength="9.0" lengthAdjust="spacingAndGlyphs">11</text>
<rect x="714.22" y="142.00" width="10.17" height="10.50" fill="#3a9f3b" />
<text x="714.80" y="150.90" font-size="10.2" fill="#fff" fill-opacity="0.88" font-weight="700" textLength="9.0" lengthAdjust="spacingAndGlyphs">12</text>
<text x="565.60" y="152.15" font-size="13.6" fill="#ec1c2e" font-weight="700" font-style="italic" text-anchor="middle">5</text>
<rect x="571.90" y="166.05" width="154.34" height="13.25" fill="#231815" />
<rect x="573.20" y="167.80" width="10.17" height="10.40" fill="#1488d8" />
<text x="575.78" y="176.65" font-size="10.2" fill="#fff" fill-opacity="0.88" font-weight="700" textLength="5.0" lengthAdjust="spacingAndGlyphs">1</text>
<rect x="586.02" y="167.80" width="10.17" height="10.40" fill="#1488d8" />
<text x="588.61" y="176.65" font-size="10.2" fill="#fff" fill-opacity="0.88" font-weight="700" textLength="5.0" lengthAdjust="spacingAndGlyphs">2</text>
<rect x="598.84" y="167.80" width="10.17" height="10.40" fill="#1488d8" />
<text x="601.42" y="176.65" font-size="10.2" fill="#fff" fill-opacity="0.88" font-weight="700" textLength="5.0" lengthAdjust="spacingAndGlyphs">3</text>
<rect x="611.66" y="167.80" width="10.17" height="10.40" fill="#1488d8" />
<text x="614.25" y="176.65" font-size="10.2" fill="#fff" fill-opacity="0.88" font-weight="700" textLength="5.0" lengthAdjust="spacingAndGlyphs">4</text>
<rect x="624.48" y="167.80" width="10.17" height="10.40" fill="#1488d8" />
<text x="627.06" y="176.65" font-size="10.2" fill="#fff" fill-opacity="0.88" font-weight="700" textLength="5.0" lengthAdjust="spacingAndGlyphs">5</text>
<rect x="637.30" y="167.80" width="10.17" height="10.40" fill="#1488d8" />
<text x="639.88" y="176.65" font-size="10.2" fill="#fff" fill-opacity="0.88" font-weight="700" textLength="5.0" lengthAdjust="spacingAndGlyphs">6</text>
<rect x="650.12" y="167.80" width="10.17" height="10.40" fill="#1488d8" />
<text x="652.70" y="176.65" font-size="10.2" fill="#fff" fill-opacity="0.88" font-weight="700" textLength="5.0" lengthAdjust="spacingAndGlyphs">7</text>
<rect x="662.94" y="167.80" width="10.17" height="10.40" fill="#1488d8" />
<text x="665.52" y="176.65" font-size="10.2" fill="#fff" fill-opacity="0.88" font-weight="700" textLength="5.0" lengthAdjust="spacingAndGlyphs">8</text>
<rect x="675.76" y="167.80" width="10.17" height="10.40" fill="#1488d8" />
<text x="678.35" y="176.65" font-size="10.2" fill="#fff" fill-opacity="0.88" font-weight="700" textLength="5.0" lengthAdjust="spacingAndGlyphs">9</text>
<rect x="688.58" y="167.80" width="10.17" height="10.40" fill="#1488d8" />
<text x="689.16" y="176.65" font-size="10.2" fill="#fff" fill-opacity="0.88" font-weight="700" textLength="9.0" lengthAdjust="spacingAndGlyphs">10</text>
<rect x="701.40" y="167.80" width="10.17" height="10.40" fill="#1488d8" />
<text x="701.98" y="176.65" font-size="10.2" fill="#fff" fill-opacity="0.88" font-weight="700" textLength="9.0" lengthAdjust="spacingAndGlyphs">11</text>
<rect x="714.22" y="167.80" width="10.17" height="10.40" fill="#1488d8" />
<text x="714.80" y="176.65" font-size="10.2" fill="#fff" fill-opacity="0.88" font-weight="700" textLength="9.0" lengthAdjust="spacingAndGlyphs">12</text>
<text x="565.60" y="177.90" font-size="13.6" fill="#ec1c2e" font-weight="700" font-style="italic" text-anchor="middle">4</text>
<rect x="571.90" y="191.75" width="154.34" height="13.75" fill="#231815" />
<rect x="573.20" y="193.50" width="10.17" height="10.90" fill="#1488d8" />
<text x="575.78" y="202.60" font-size="10.2" fill="#fff" fill-opacity="0.88" font-weight="700" textLength="5.0" lengthAdjust="spacingAndGlyphs">1</text>
<rect x="586.02" y="193.50" width="10.17" height="10.90" fill="#1488d8" />
<text x="588.61" y="202.60" font-size="10.2" fill="#fff" fill-opacity="0.88" font-weight="700" textLength="5.0" lengthAdjust="spacingAndGlyphs">2</text>
<rect x="598.84" y="193.50" width="10.17" height="10.90" fill="#1488d8" />
<text x="601.42" y="202.60" font-size="10.2" fill="#fff" fill-opacity="0.88" font-weight="700" textLength="5.0" lengthAdjust="spacingAndGlyphs">3</text>
<rect x="611.66" y="193.50" width="10.17" height="10.90" fill="#1488d8" />
<text x="614.25" y="202.60" font-size="10.2" fill="#fff" fill-opacity="0.88" font-weight="700" textLength="5.0" lengthAdjust="spacingAndGlyphs">4</text>
<rect x="624.48" y="193.50" width="10.17" height="10.90" fill="#1488d8" />
<text x="627.06" y="202.60" font-size="10.2" fill="#fff" fill-opacity="0.88" font-weight="700" textLength="5.0" lengthAdjust="spacingAndGlyphs">5</text>
<rect x="637.30" y="193.50" width="10.17" height="10.90" fill="#1488d8" />
<text x="639.88" y="202.60" font-size="10.2" fill="#fff" fill-opacity="0.88" font-weight="700" textLength="5.0" lengthAdjust="spacingAndGlyphs">6</text>
<rect x="650.12" y="193.50" width="10.17" height="10.90" fill="#1488d8" />
<text x="652.70" y="202.60" font-size="10.2" fill="#fff" fill-opacity="0.88" font-weight="700" textLength="5.0" lengthAdjust="spacingAndGlyphs">7</text>
<rect x="662.94" y="193.50" width="10.17" height="10.90" fill="#1488d8" />
<text x="665.52" y="202.60" font-size="10.2" fill="#fff" fill-opacity="0.88" font-weight="700" textLength="5.0" lengthAdjust="spacingAndGlyphs">8</text>
<rect x="675.76" y="193.50" width="10.17" height="10.90" fill="#1488d8" />
<text x="678.35" y="202.60" font-size="10.2" fill="#fff" fill-opacity="0.88" font-weight="700" textLength="5.0" lengthAdjust="spacingAndGlyphs">9</text>
<rect x="688.58" y="193.50" width="10.17" height="10.90" fill="#1488d8" />
<text x="689.16" y="202.60" font-size="10.2" fill="#fff" fill-opacity="0.88" font-weight="700" textLength="9.0" lengthAdjust="spacingAndGlyphs">10</text>
<rect x="701.40" y="193.50" width="10.17" height="10.90" fill="#1488d8" />
<text x="701.98" y="202.60" font-size="10.2" fill="#fff" fill-opacity="0.88" font-weight="700" textLength="9.0" lengthAdjust="spacingAndGlyphs">11</text>
<rect x="714.22" y="193.50" width="10.17" height="10.90" fill="#1488d8" />
<text x="714.80" y="202.60" font-size="10.2" fill="#fff" fill-opacity="0.88" font-weight="700" textLength="9.0" lengthAdjust="spacingAndGlyphs">12</text>
<text x="565.60" y="203.85" font-size="13.6" fill="#ec1c2e" font-weight="700" font-style="italic" text-anchor="middle">3</text>
<rect x="752.50" y="87.10" width="154.58" height="14.60" fill="#231815" />
<rect x="750.60" y="87.10" width="156.88" height="2.50" fill="#231815" />
<rect x="753.80" y="89.80" width="10.19" height="11.30" fill="#ea5014" />
<text x="756.39" y="99.10" font-size="10.2" fill="#fff" fill-opacity="0.88" font-weight="700" textLength="5.0" lengthAdjust="spacingAndGlyphs">1</text>
<rect x="766.64" y="89.80" width="10.19" height="11.30" fill="#ea5014" />
<text x="769.24" y="99.10" font-size="10.2" fill="#fff" fill-opacity="0.88" font-weight="700" textLength="5.0" lengthAdjust="spacingAndGlyphs">2</text>
<rect x="779.48" y="89.80" width="10.19" height="11.30" fill="#ea5014" />
<text x="782.07" y="99.10" font-size="10.2" fill="#fff" fill-opacity="0.88" font-weight="700" textLength="5.0" lengthAdjust="spacingAndGlyphs">3</text>
<rect x="792.32" y="89.80" width="10.19" height="11.30" fill="#ea5014" />
<text x="794.91" y="99.10" font-size="10.2" fill="#fff" fill-opacity="0.88" font-weight="700" textLength="5.0" lengthAdjust="spacingAndGlyphs">4</text>
<rect x="805.16" y="89.80" width="10.19" height="11.30" fill="#ea5014" />
<text x="807.75" y="99.10" font-size="10.2" fill="#fff" fill-opacity="0.88" font-weight="700" textLength="5.0" lengthAdjust="spacingAndGlyphs">5</text>
<rect x="818.00" y="89.80" width="10.19" height="11.30" fill="#ea5014" />
<text x="820.60" y="99.10" font-size="10.2" fill="#fff" fill-opacity="0.88" font-weight="700" textLength="5.0" lengthAdjust="spacingAndGlyphs">6</text>
<rect x="830.84" y="89.80" width="10.19" height="11.30" fill="#ea5014" />
<text x="833.43" y="99.10" font-size="10.2" fill="#fff" fill-opacity="0.88" font-weight="700" textLength="5.0" lengthAdjust="spacingAndGlyphs">7</text>
<rect x="843.68" y="89.80" width="10.19" height="11.30" fill="#ea5014" />
<text x="846.27" y="99.10" font-size="10.2" fill="#fff" fill-opacity="0.88" font-weight="700" textLength="5.0" lengthAdjust="spacingAndGlyphs">8</text>
<rect x="856.52" y="89.80" width="10.19" height="11.30" fill="#ea5014" />
<text x="859.12" y="99.10" font-size="10.2" fill="#fff" fill-opacity="0.88" font-weight="700" textLength="5.0" lengthAdjust="spacingAndGlyphs">9</text>
<rect x="869.36" y="89.80" width="10.19" height="11.30" fill="#ea5014" />
<text x="869.95" y="99.10" font-size="10.2" fill="#fff" fill-opacity="0.88" font-weight="700" textLength="9.0" lengthAdjust="spacingAndGlyphs">10</text>
<rect x="882.20" y="89.80" width="10.19" height="11.30" fill="#ea5014" />
<text x="882.79" y="99.10" font-size="10.2" fill="#fff" fill-opacity="0.88" font-weight="700" textLength="9.0" lengthAdjust="spacingAndGlyphs">11</text>
<rect x="895.04" y="89.80" width="10.19" height="11.30" fill="#ea5014" />
<text x="895.63" y="99.10" font-size="10.2" fill="#fff" fill-opacity="0.88" font-weight="700" textLength="9.0" lengthAdjust="spacingAndGlyphs">12</text>
<rect x="752.50" y="114.10" width="154.58" height="13.65" fill="#231815" />
<rect x="753.80" y="115.85" width="10.19" height="11.30" fill="#3a9f3b" />
<text x="756.39" y="125.15" font-size="10.2" fill="#fff" fill-opacity="0.88" font-weight="700" textLength="5.0" lengthAdjust="spacingAndGlyphs">1</text>
<rect x="766.64" y="115.85" width="10.19" height="11.30" fill="#3a9f3b" />
<text x="769.24" y="125.15" font-size="10.2" fill="#fff" fill-opacity="0.88" font-weight="700" textLength="5.0" lengthAdjust="spacingAndGlyphs">2</text>
<rect x="779.48" y="115.85" width="10.19" height="11.30" fill="#3a9f3b" />
<text x="782.07" y="125.15" font-size="10.2" fill="#fff" fill-opacity="0.88" font-weight="700" textLength="5.0" lengthAdjust="spacingAndGlyphs">3</text>
<rect x="792.32" y="115.85" width="10.19" height="11.30" fill="#3a9f3b" />
<text x="794.91" y="125.15" font-size="10.2" fill="#fff" fill-opacity="0.88" font-weight="700" textLength="5.0" lengthAdjust="spacingAndGlyphs">4</text>
<rect x="805.16" y="115.85" width="10.19" height="11.30" fill="#3a9f3b" />
<text x="807.75" y="125.15" font-size="10.2" fill="#fff" fill-opacity="0.88" font-weight="700" textLength="5.0" lengthAdjust="spacingAndGlyphs">5</text>
<rect x="818.00" y="115.85" width="10.19" height="11.30" fill="#3a9f3b" />
<text x="820.60" y="125.15" font-size="10.2" fill="#fff" fill-opacity="0.88" font-weight="700" textLength="5.0" lengthAdjust="spacingAndGlyphs">6</text>
<rect x="830.84" y="115.85" width="10.19" height="11.30" fill="#3a9f3b" />
<text x="833.43" y="125.15" font-size="10.2" fill="#fff" fill-opacity="0.88" font-weight="700" textLength="5.0" lengthAdjust="spacingAndGlyphs">7</text>
<rect x="843.68" y="115.85" width="10.19" height="11.30" fill="#3a9f3b" />
<text x="846.27" y="125.15" font-size="10.2" fill="#fff" fill-opacity="0.88" font-weight="700" textLength="5.0" lengthAdjust="spacingAndGlyphs">8</text>
<rect x="856.52" y="115.85" width="10.19" height="11.30" fill="#3a9f3b" />
<text x="859.12" y="125.15" font-size="10.2" fill="#fff" fill-opacity="0.88" font-weight="700" textLength="5.0" lengthAdjust="spacingAndGlyphs">9</text>
<rect x="869.36" y="115.85" width="10.19" height="11.30" fill="#3a9f3b" />
<text x="869.95" y="125.15" font-size="10.2" fill="#fff" fill-opacity="0.88" font-weight="700" textLength="9.0" lengthAdjust="spacingAndGlyphs">10</text>
<rect x="882.20" y="115.85" width="10.19" height="11.30" fill="#3a9f3b" />
<text x="882.79" y="125.15" font-size="10.2" fill="#fff" fill-opacity="0.88" font-weight="700" textLength="9.0" lengthAdjust="spacingAndGlyphs">11</text>
<rect x="895.04" y="115.85" width="10.19" height="11.30" fill="#3a9f3b" />
<text x="895.63" y="125.15" font-size="10.2" fill="#fff" fill-opacity="0.88" font-weight="700" textLength="9.0" lengthAdjust="spacingAndGlyphs">12</text>
<rect x="829.54" y="140.25" width="77.54" height="13.35" fill="#231815" />
<rect x="830.84" y="142.00" width="10.19" height="10.50" fill="#3a9f3b" />
<text x="833.43" y="150.90" font-size="10.2" fill="#fff" fill-opacity="0.88" font-weight="700" textLength="5.0" lengthAdjust="spacingAndGlyphs">7</text>
<rect x="843.68" y="142.00" width="10.19" height="10.50" fill="#3a9f3b" />
<text x="846.27" y="150.90" font-size="10.2" fill="#fff" fill-opacity="0.88" font-weight="700" textLength="5.0" lengthAdjust="spacingAndGlyphs">8</text>
<rect x="856.52" y="142.00" width="10.19" height="10.50" fill="#3a9f3b" />
<text x="859.11" y="150.90" font-size="10.2" fill="#fff" fill-opacity="0.88" font-weight="700" textLength="5.0" lengthAdjust="spacingAndGlyphs">9</text>
<rect x="869.36" y="142.00" width="10.19" height="10.50" fill="#3a9f3b" />
<text x="869.95" y="150.90" font-size="10.2" fill="#fff" fill-opacity="0.88" font-weight="700" textLength="9.0" lengthAdjust="spacingAndGlyphs">10</text>
<rect x="882.20" y="142.00" width="10.19" height="10.50" fill="#3a9f3b" />
<text x="882.79" y="150.90" font-size="10.2" fill="#fff" fill-opacity="0.88" font-weight="700" textLength="9.0" lengthAdjust="spacingAndGlyphs">11</text>
<rect x="895.04" y="142.00" width="10.19" height="10.50" fill="#3a9f3b" />
<text x="895.63" y="150.90" font-size="10.2" fill="#fff" fill-opacity="0.88" font-weight="700" textLength="9.0" lengthAdjust="spacingAndGlyphs">12</text>
<rect x="829.54" y="166.05" width="77.54" height="13.25" fill="#231815" />
<rect x="830.84" y="167.80" width="10.19" height="10.40" fill="#3a9f3b" />
<text x="833.43" y="176.65" font-size="10.2" fill="#fff" fill-opacity="0.88" font-weight="700" textLength="5.0" lengthAdjust="spacingAndGlyphs">7</text>
<rect x="843.68" y="167.80" width="10.19" height="10.40" fill="#3a9f3b" />
<text x="846.27" y="176.65" font-size="10.2" fill="#fff" fill-opacity="0.88" font-weight="700" textLength="5.0" lengthAdjust="spacingAndGlyphs">8</text>
<rect x="856.52" y="167.80" width="10.19" height="10.40" fill="#3a9f3b" />
<text x="859.11" y="176.65" font-size="10.2" fill="#fff" fill-opacity="0.88" font-weight="700" textLength="5.0" lengthAdjust="spacingAndGlyphs">9</text>
<rect x="869.36" y="167.80" width="10.19" height="10.40" fill="#3a9f3b" />
<text x="869.95" y="176.65" font-size="10.2" fill="#fff" fill-opacity="0.88" font-weight="700" textLength="9.0" lengthAdjust="spacingAndGlyphs">10</text>
<rect x="882.20" y="167.80" width="10.19" height="10.40" fill="#3a9f3b" />
<text x="882.79" y="176.65" font-size="10.2" fill="#fff" fill-opacity="0.88" font-weight="700" textLength="9.0" lengthAdjust="spacingAndGlyphs">11</text>
<rect x="895.04" y="167.80" width="10.19" height="10.40" fill="#3a9f3b" />
<text x="895.63" y="176.65" font-size="10.2" fill="#fff" fill-opacity="0.88" font-weight="700" textLength="9.0" lengthAdjust="spacingAndGlyphs">12</text>
<rect x="829.54" y="191.75" width="77.54" height="13.75" fill="#231815" />
<rect x="830.84" y="193.50" width="10.19" height="10.90" fill="#3a9f3b" />
<text x="833.43" y="202.60" font-size="10.2" fill="#fff" fill-opacity="0.88" font-weight="700" textLength="5.0" lengthAdjust="spacingAndGlyphs">7</text>
<rect x="843.68" y="193.50" width="10.19" height="10.90" fill="#3a9f3b" />
<text x="846.27" y="202.60" font-size="10.2" fill="#fff" fill-opacity="0.88" font-weight="700" textLength="5.0" lengthAdjust="spacingAndGlyphs">8</text>
<rect x="856.52" y="193.50" width="10.19" height="10.90" fill="#3a9f3b" />
<text x="859.11" y="202.60" font-size="10.2" fill="#fff" fill-opacity="0.88" font-weight="700" textLength="5.0" lengthAdjust="spacingAndGlyphs">9</text>
<rect x="869.36" y="193.50" width="10.19" height="10.90" fill="#3a9f3b" />
<text x="869.95" y="202.60" font-size="10.2" fill="#fff" fill-opacity="0.88" font-weight="700" textLength="9.0" lengthAdjust="spacingAndGlyphs">10</text>
<rect x="882.20" y="193.50" width="10.19" height="10.90" fill="#3a9f3b" />
<text x="882.79" y="202.60" font-size="10.2" fill="#fff" fill-opacity="0.88" font-weight="700" textLength="9.0" lengthAdjust="spacingAndGlyphs">11</text>
<rect x="895.04" y="193.50" width="10.19" height="10.90" fill="#3a9f3b" />
<text x="895.63" y="202.60" font-size="10.2" fill="#fff" fill-opacity="0.88" font-weight="700" textLength="9.0" lengthAdjust="spacingAndGlyphs">12</text>
<rect x="829.54" y="218.25" width="77.54" height="12.85" fill="#231815" />
<rect x="830.84" y="220.00" width="10.19" height="10.00" fill="#1488d8" />
<text x="833.43" y="228.65" font-size="10.2" fill="#fff" fill-opacity="0.88" font-weight="700" textLength="5.0" lengthAdjust="spacingAndGlyphs">7</text>
<rect x="843.68" y="220.00" width="10.19" height="10.00" fill="#1488d8" />
<text x="846.27" y="228.65" font-size="10.2" fill="#fff" fill-opacity="0.88" font-weight="700" textLength="5.0" lengthAdjust="spacingAndGlyphs">8</text>
<rect x="856.52" y="220.00" width="10.19" height="10.00" fill="#1488d8" />
<text x="859.11" y="228.65" font-size="10.2" fill="#fff" fill-opacity="0.88" font-weight="700" textLength="5.0" lengthAdjust="spacingAndGlyphs">9</text>
<rect x="869.36" y="220.00" width="10.19" height="10.00" fill="#1488d8" />
<text x="869.95" y="228.65" font-size="10.2" fill="#fff" fill-opacity="0.88" font-weight="700" textLength="9.0" lengthAdjust="spacingAndGlyphs">10</text>
<rect x="882.20" y="220.00" width="10.19" height="10.00" fill="#1488d8" />
<text x="882.79" y="228.65" font-size="10.2" fill="#fff" fill-opacity="0.88" font-weight="700" textLength="9.0" lengthAdjust="spacingAndGlyphs">11</text>
<rect x="895.04" y="220.00" width="10.19" height="10.00" fill="#1488d8" />
<text x="895.63" y="228.65" font-size="10.2" fill="#fff" fill-opacity="0.88" font-weight="700" textLength="9.0" lengthAdjust="spacingAndGlyphs">12</text>
<rect x="880.90" y="243.85" width="26.18" height="12.85" fill="#231815" />
<rect x="882.20" y="245.60" width="10.19" height="10.00" fill="#1488d8" />
<text x="882.79" y="254.25" font-size="10.2" fill="#fff" fill-opacity="0.88" font-weight="700" textLength="9.0" lengthAdjust="spacingAndGlyphs">11</text>
<rect x="895.04" y="245.60" width="10.19" height="10.00" fill="#1488d8" />
<text x="895.63" y="254.25" font-size="10.2" fill="#fff" fill-opacity="0.88" font-weight="700" textLength="9.0" lengthAdjust="spacingAndGlyphs">12</text>
<text x="926.60" y="256.70" font-size="13.6" fill="#ec1c2e" font-weight="700" font-style="italic" text-anchor="middle">1</text>
<text x="926.60" y="231.10" font-size="13.6" fill="#ec1c2e" font-weight="700" font-style="italic" text-anchor="middle">2</text>
<text x="926.60" y="205.05" font-size="13.6" fill="#ec1c2e" font-weight="700" font-style="italic" text-anchor="middle">3</text>
<text x="926.60" y="179.10" font-size="13.6" fill="#ec1c2e" font-weight="700" font-style="italic" text-anchor="middle">4</text>
<text x="926.60" y="153.35" font-size="13.6" fill="#ec1c2e" font-weight="700" font-style="italic" text-anchor="middle">5</text>
<text x="926.60" y="127.60" font-size="13.6" fill="#ec1c2e" font-weight="700" font-style="italic" text-anchor="middle">6</text>
<text x="926.60" y="101.55" font-size="13.6" fill="#ec1c2e" font-weight="700" font-style="italic" text-anchor="middle">7</text>
<path d="M108.5 244.8 V144.2 H181.7 V225 H197" fill="none" stroke="#231815" stroke-width="5.6" stroke-linejoin="miter"/>
<path d="M739 225.3 H753.8 V143.5 H826.3 V244.8" fill="none" stroke="#231815" stroke-width="5.4" stroke-linejoin="miter"/>
<line x1="0.00" y1="288.20" x2="934.00" y2="288.20" stroke="#231815" stroke-width="1.7" />
<line x1="0.00" y1="294.10" x2="934.00" y2="294.10" stroke="#231815" stroke-width="1.7" />
<line x1="0.00" y1="302.40" x2="934.00" y2="302.40" stroke="#231815" stroke-width="3.0" />
<line x1="197.00" y1="280.20" x2="739.00" y2="280.20" stroke="#231815" stroke-width="1.6" />
<line x1="197.00" y1="225.80" x2="739.00" y2="225.80" stroke="#231815" stroke-width="3.8" />
<line x1="0.00" y1="79.30" x2="934.00" y2="79.30" stroke="#231815" stroke-width="2.9" />
<rect x="931.80" y="87.10" width="3.00" height="2.40" fill="#231815" />
<line x1="16.50" y1="79.50" x2="16.50" y2="302.40" stroke="#231815" stroke-width="2.8" />
<line x1="196.80" y1="79.50" x2="196.80" y2="302.40" stroke="#231815" stroke-width="2.8" />
<line x1="377.40" y1="79.50" x2="377.40" y2="302.40" stroke="#231815" stroke-width="2.8" />
<line x1="557.80" y1="79.50" x2="557.80" y2="302.40" stroke="#231815" stroke-width="2.8" />
<line x1="738.80" y1="79.50" x2="738.80" y2="302.40" stroke="#231815" stroke-width="2.8" />
<line x1="919.50" y1="79.50" x2="919.50" y2="302.40" stroke="#231815" stroke-width="2.8" />
<line x1="410.60" y1="225.00" x2="410.60" y2="288.60" stroke="#231815" stroke-width="2.9" />
<line x1="524.60" y1="225.00" x2="524.60" y2="288.60" stroke="#231815" stroke-width="2.9" />
<rect x="206.6" y="236.4" width="156.6" height="39.6" fill="#fff" stroke="#231815" stroke-width="1.4"/>
<rect x="572.3" y="236.6" width="157" height="39.6" fill="#fff" stroke="#231815" stroke-width="1.4"/>
<text x="219.6" y="263.1" font-size="21" fill="#231815" class="jpb" textLength="125.5" lengthAdjust="spacing">ホームベンチ</text>
<text x="577.6" y="263.3" font-size="21" fill="#231815" class="jpb" textLength="146.3" lengthAdjust="spacing">ビジターベンチ</text>
<rect x="59.30" y="281.20" width="23.30" height="7.00" fill="#fff" />
<rect x="854.80" y="281.20" width="22.40" height="7.00" fill="#fff" />
<line x1="59.30" y1="244.50" x2="59.30" y2="288.00" stroke="#231815" stroke-width="1.5" />
<line x1="66.90" y1="244.50" x2="66.90" y2="288.00" stroke="#231815" stroke-width="1.5" />
<line x1="75.00" y1="244.50" x2="75.00" y2="288.00" stroke="#231815" stroke-width="1.5" />
<line x1="82.60" y1="244.50" x2="82.60" y2="288.00" stroke="#231815" stroke-width="1.5" />
<line x1="58.10" y1="266.00" x2="82.20" y2="266.00" stroke="#231815" stroke-width="1.5" />
<line x1="854.80" y1="244.50" x2="854.80" y2="288.00" stroke="#231815" stroke-width="1.5" />
<line x1="862.60" y1="244.50" x2="862.60" y2="288.00" stroke="#231815" stroke-width="1.5" />
<line x1="870.40" y1="244.50" x2="870.40" y2="288.00" stroke="#231815" stroke-width="1.5" />
<line x1="877.20" y1="244.50" x2="877.20" y2="288.00" stroke="#231815" stroke-width="1.5" />
<line x1="853.60" y1="266.00" x2="876.80" y2="266.00" stroke="#231815" stroke-width="1.5" />
<line x1="106.60" y1="244.50" x2="106.60" y2="288.00" stroke="#231815" stroke-width="1.3" />
<line x1="110.80" y1="244.50" x2="110.80" y2="288.00" stroke="#231815" stroke-width="1.3" />
<path d="M110.9 253.2 A28.2 28.2 0 0 1 139.2 281.4" fill="none" stroke="#231815" stroke-width="1.4" />
<line x1="108.00" y1="281.50" x2="139.60" y2="281.50" stroke="#231815" stroke-width="2.4" />
<path d="M150.5 294 V265 A24 22 0 0 1 174.5 287 V294" fill="none" stroke="#231815" stroke-width="1.4" />
<path d="M-2 262 A31.5 32 0 0 1 29.6 294 " fill="none" stroke="#231815" stroke-width="1.4" />
<line x1="29.60" y1="283.00" x2="29.60" y2="294.00" stroke="#231815" stroke-width="1.2" />
<path d="M0 288 H3.6 V294" fill="none" stroke="#231815" stroke-width="1.4" />
<line x1="825.40" y1="244.50" x2="825.40" y2="288.00" stroke="#231815" stroke-width="1.3" />
<line x1="828.90" y1="244.50" x2="828.90" y2="288.00" stroke="#231815" stroke-width="1.3" />
<path d="M825.6 253 A28.5 28.4 0 0 0 796.8 281.4" fill="none" stroke="#231815" stroke-width="1.4" />
<line x1="796.40" y1="281.30" x2="828.50" y2="281.30" stroke="#231815" stroke-width="2.4" />
<path d="M785 294 V265.3 A23 22.5 0 0 0 762 287.5 V294" fill="none" stroke="#231815" stroke-width="1.4" />
<path d="M936 262 A31 32 0 0 0 906.6 294" fill="none" stroke="#231815" stroke-width="1.4" />
<line x1="906.60" y1="283.00" x2="906.60" y2="294.00" stroke="#231815" stroke-width="1.2" />
<rect x="931.70" y="287.60" width="3.00" height="6.60" fill="#231815" />
<path d="M361.3 294 V286 A15.5 20.4 0 0 1 376.8 265.6 H384.1 V294" fill="none" stroke="#231815" stroke-width="1.4" />
<path d="M574.1 294 V286 A15.5 20.4 0 0 0 558.5 265.5 H551 V294" fill="none" stroke="#231815" stroke-width="1.4" />
<rect x="88" y="33" width="51" height="37" fill="#fad9e8" stroke="#231815" stroke-width="1.5"/>
<text x="95.35" y="60.7" font-size="25.6" fill="#231815" stroke="#231815" stroke-width="0.25" textLength="36.3" lengthAdjust="spacingAndGlyphs">W5</text>
<rect x="262.3" y="33" width="48.8" height="37" fill="#cfe8f8" stroke="#231815" stroke-width="1.5"/>
<text x="268.7" y="60.7" font-size="25.6" fill="#231815" stroke="#231815" stroke-width="0.25" textLength="36" lengthAdjust="spacingAndGlyphs">W6</text>
<rect x="443.5" y="33.2" width="49.5" height="36.6" fill="#cfe8f8" stroke="#231815" stroke-width="1.5"/>
<text x="450.25" y="60.7" font-size="25.6" fill="#231815" stroke="#231815" stroke-width="0.25" textLength="36" lengthAdjust="spacingAndGlyphs">W7</text>
<rect x="618.9" y="33" width="49.3" height="37" fill="#cfe8f8" stroke="#231815" stroke-width="1.5"/>
<text x="625.55" y="60.7" font-size="25.6" fill="#231815" stroke="#231815" stroke-width="0.25" textLength="36" lengthAdjust="spacingAndGlyphs">W8</text>
<rect x="798" y="33" width="49.5" height="37" fill="#fad9e8" stroke="#231815" stroke-width="1.5"/>
<text x="804.75" y="60.7" font-size="25.6" fill="#231815" stroke="#231815" stroke-width="0.25" textLength="36" lengthAdjust="spacingAndGlyphs">W9</text>
<text x="428.7" y="20.2" font-size="17" fill="#231815" class="jpr" textLength="74.6" lengthAdjust="spacingAndGlyphs">コンコース</text>
<line x1="130.00" y1="0.50" x2="800.00" y2="0.50" stroke="#120404" stroke-width="2.2" />
<circle cx="132.3" cy="0.6" r="5.0" fill="#120404"/>
<path d="M129.70000000000002 4.4 L132.3 7.8 L134.9 4.4 Z" fill="#120404"/>
<circle cx="799.8" cy="0.6" r="5.0" fill="#120404"/>
<path d="M797.1999999999999 4.4 L799.8 7.8 L802.4 4.4 Z" fill="#120404"/>
<circle cx="301.9" cy="0.8" r="2.7" fill="#120404"/>
<line x1="291.00" y1="0.10" x2="309.00" y2="0.10" stroke="#bdbdbd" stroke-width="0.9" />
<circle cx="629.4" cy="1.0" r="2.8" fill="#120404"/>
<line x1="632.80" y1="0.10" x2="641.00" y2="0.10" stroke="#bdbdbd" stroke-width="0.9" />
<line x1="0.00" y1="473.20" x2="934.00" y2="473.20" stroke="#231815" stroke-width="1.5" />
<line x1="933.20" y1="287.00" x2="933.20" y2="474.00" stroke="#231815" stroke-width="1.9" />
<rect x="375.50" y="377.00" width="134.00" height="9.30" fill="#231815" />
<rect x="375.50" y="407.00" width="68.80" height="9.50" fill="#231815" />
<rect x="540.80" y="377.00" width="11.20" height="39.50" fill="#231815" />
<rect x="556.30" y="377.00" width="80.70" height="9.30" fill="#231815" />
<rect x="556.30" y="394.50" width="41.20" height="9.50" fill="#231815" />
<rect x="645.80" y="377.00" width="10.50" height="39.50" fill="#231815" />
<rect x="660.80" y="407.00" width="81.00" height="9.50" fill="#231815" />
<rect x="776.50" y="377.00" width="56.30" height="9.30" fill="#231815" />
<path d="M749 416.5 L768 395.3 H841.5 L860.5 416.5 H850.5 L837.3 404 H771.5 L760.3 416.5 Z" fill="#231815"/>
<rect x="852.30" y="377.00" width="90.00" height="9.30" fill="#231815" />
<rect x="901.00" y="395.30" width="9.30" height="21.20" fill="#231815" />
<text x="541.0" y="447.0" font-size="21.6" font-weight="700" fill="#231815" letter-spacing="35.95">HACHINOH</text>
<!-- ===== FREE BLADES logo ===== -->
<clipPath id="logoclip"><rect x="0" y="310" width="340" height="161.6"/></clipPath>
<g id="freeblades" clip-path="url(#logoclip)">
  <title>FREE BLADES</title>
  <path d="M0 331 C7 342 13 350 19 356 C25 361 31 365 38 368.2 C44 371 50 373.5 57 375.8 C64 378 71 379.5 80 380.5 L84 397 L62 403 L34 401 L9 396 L0 385 Z" fill="#8c8c8c"/>
  <path d="M-2.0 333.0 C1.4 337.3 11.9 352.6 18.5 358.9 C25.1 365.1 31.3 367.4 37.7 370.5 C44.2 373.7 49.8 375.8 57.2 377.7 C64.6 379.6 78.0 381.3 82.1 382.0" fill="none" stroke="#dedede" stroke-width="1.3"/>
  <path d="M-2.0 338.1 C1.3 342.2 11.3 356.7 17.9 362.6 C24.4 368.5 30.8 370.6 37.4 373.5 C44.0 376.5 50.0 378.5 57.5 380.2 C65.0 381.8 78.2 383.1 82.3 383.6" fill="none" stroke="#626262" stroke-width="1.2"/>
  <path d="M-2.0 343.2 C1.2 347.1 10.8 360.7 17.2 366.2 C23.8 371.8 30.2 373.8 37.0 376.5 C43.8 379.2 50.2 381.2 57.8 382.6 C65.3 384.1 78.4 384.8 82.5 385.2" fill="none" stroke="#f0f0f0" stroke-width="1.6"/>
  <path d="M-2.0 348.4 C1.1 352.0 10.2 364.7 16.6 369.9 C23.1 375.1 29.7 377.0 36.6 379.5 C43.5 382.0 50.3 383.8 58.0 385.0 C65.7 386.3 78.6 386.5 82.7 386.8" fill="none" stroke="#5e5e5e" stroke-width="1.3"/>
  <path d="M-2.0 353.5 C1.0 356.9 9.6 368.8 16.0 373.6 C22.4 378.5 29.2 380.2 36.3 382.5 C43.3 384.8 50.5 386.5 58.3 387.5 C66.1 388.5 78.8 388.3 82.9 388.4" fill="none" stroke="#d6d6d6" stroke-width="1.4"/>
  <path d="M-2.0 358.6 C0.9 361.8 9.0 372.8 15.4 377.3 C21.7 381.8 28.7 383.4 35.9 385.5 C43.1 387.6 50.7 389.2 58.6 389.9 C66.4 390.7 79.0 390.0 83.0 390.0" fill="none" stroke="#6a6a6a" stroke-width="1.2"/>
  <path d="M-2.0 363.8 C0.8 366.6 8.5 376.9 14.7 381.0 C21.0 385.1 28.2 386.6 35.6 388.5 C42.9 390.4 50.9 391.9 58.8 392.4 C66.8 392.9 79.2 391.7 83.2 391.6" fill="none" stroke="#ececec" stroke-width="1.6"/>
  <path d="M-2.0 368.9 C0.7 371.5 7.9 380.9 14.1 384.7 C20.3 388.5 27.7 389.8 35.2 391.5 C42.7 393.2 51.1 394.6 59.1 394.8 C67.1 395.1 79.4 393.5 83.4 393.2" fill="none" stroke="#5c5c5c" stroke-width="1.3"/>
  <path d="M-2.0 374.0 C0.6 376.4 7.3 385.0 13.5 388.4 C19.6 391.8 27.2 393.0 34.8 394.5 C42.5 396.0 51.2 397.2 59.4 397.3 C67.5 397.3 79.5 395.2 83.6 394.8" fill="none" stroke="#d2d2d2" stroke-width="1.4"/>
  <path d="M-2.0 379.2 C0.5 381.3 6.8 389.0 12.8 392.1 C18.9 395.1 26.7 396.2 34.5 397.5 C42.3 398.8 51.4 399.9 59.6 399.7 C67.9 399.5 79.7 396.9 83.8 396.4" fill="none" stroke="#707070" stroke-width="1.1"/>
  <path d="M-2.0 383.1 C0.4 385.1 6.3 392.2 12.4 394.9 C18.4 397.7 26.3 398.7 34.2 399.8 C42.1 400.9 51.6 402.0 59.9 401.6 C68.1 401.3 79.9 398.3 83.9 397.6" fill="none" stroke="#c4c4c4" stroke-width="1.1"/>
  <path d="M19 356 L25 368 L38 392 M52 374 L60 388 L66 398 M36 367 L44 381" fill="none" stroke="#5a5a5a" stroke-width="1.6"/>
  <path d="M222 380 C238 378 248 376 256 372 C266 367 274 361 281 355 C292 345 300 335 306 326 L308.5 346 L317 339 L316.5 357.5 L320.6 354 C321 362 319 370 316 377 C313 384 309 389 304 393 L290 398 L222 398 Z" fill="#8c8c8c"/>
  <path d="M222.0 381.3 C227.8 380.0 247.0 377.7 257.0 373.7 C267.0 369.7 275.4 362.5 282.1 357.3 C288.7 352.1 292.8 347.5 297.1 342.5 C301.5 337.5 306.2 329.7 308.1 327.2" fill="none" stroke="#dedede" stroke-width="1.3"/>
  <path d="M222.0 382.9 C228.0 381.7 248.0 379.6 258.2 375.8 C268.5 372.1 276.7 365.3 283.4 360.3 C290.1 355.3 294.2 350.8 298.6 345.8 C302.9 340.7 307.6 332.6 309.4 330.0" fill="none" stroke="#626262" stroke-width="1.2"/>
  <path d="M222.0 384.5 C228.2 383.4 249.0 381.5 259.5 378.0 C270.0 374.5 278.0 368.1 284.8 363.2 C291.5 358.4 295.7 354.1 300.0 349.0 C304.3 343.9 309.0 335.5 310.8 332.8" fill="none" stroke="#f0f0f0" stroke-width="1.6"/>
  <path d="M222.0 386.1 C228.5 385.1 250.1 383.5 260.8 380.2 C271.4 376.8 279.3 370.9 286.1 366.2 C292.9 361.6 297.1 357.4 301.4 352.2 C305.8 347.1 310.3 338.3 312.1 335.5" fill="none" stroke="#5e5e5e" stroke-width="1.3"/>
  <path d="M222.0 387.7 C228.7 386.8 251.1 385.4 262.0 382.3 C272.9 379.2 280.6 373.7 287.4 369.2 C294.3 364.7 298.5 360.6 302.9 355.5 C307.2 350.3 311.7 341.2 313.4 338.3" fill="none" stroke="#d6d6d6" stroke-width="1.4"/>
  <path d="M222.0 389.4 C228.9 388.5 252.1 387.3 263.3 384.5 C274.4 381.6 282.0 376.5 288.8 372.2 C295.6 367.9 300.0 363.9 304.3 358.7 C308.7 353.5 313.1 344.1 314.8 341.1" fill="none" stroke="#6a6a6a" stroke-width="1.2"/>
  <path d="M222.0 391.0 C229.1 390.3 253.2 389.3 264.5 386.6 C275.9 384.0 283.3 379.2 290.1 375.1 C297.0 371.0 301.4 367.2 305.8 362.0 C310.1 356.8 314.4 346.9 316.1 343.9" fill="none" stroke="#ececec" stroke-width="1.6"/>
  <path d="M222.0 392.6 C229.3 392.0 254.2 391.2 265.8 388.8 C277.4 386.4 284.6 382.0 291.5 378.1 C298.4 374.2 302.9 370.4 307.2 365.2 C311.5 360.0 315.8 349.8 317.5 346.7" fill="none" stroke="#5c5c5c" stroke-width="1.3"/>
  <path d="M222.0 394.2 C229.5 393.7 255.3 393.2 267.1 391.0 C278.9 388.8 285.9 384.8 292.9 381.1 C299.8 377.3 304.3 373.7 308.6 368.4 C313.0 363.2 317.1 352.6 318.9 349.5" fill="none" stroke="#d2d2d2" stroke-width="1.4"/>
  <path d="M222.0 395.8 C229.7 395.4 256.3 395.1 268.3 393.1 C280.4 391.2 287.2 387.6 294.2 384.0 C301.2 380.5 305.7 377.0 310.1 371.7 C314.4 366.4 318.5 355.5 320.2 352.3" fill="none" stroke="#707070" stroke-width="1.1"/>
  <path d="M222.0 397.1 C229.9 396.7 257.1 396.6 269.3 394.8 C281.5 393.0 288.3 389.8 295.2 386.4 C302.2 382.9 306.9 379.5 311.2 374.2 C315.5 368.9 319.6 357.7 321.2 354.4" fill="none" stroke="#c4c4c4" stroke-width="1.1"/>
  <path d="M262 370 L270 378 L283 392 M240 378 L250 392 M281 355 L279 373 M298 339 L300 352" fill="none" stroke="#5a5a5a" stroke-width="1.6"/>
  <path d="M306 325 L308.6 346 L317 339 L316.6 357.5 L320.7 354 L326 352 L326 318 L304 318 Z" fill="#ffffff"/>
  <path d="M-3 389 L-3 381.5 C1 387 5 392 9.5 395 C18 398.5 26 399.5 34 400 C44 400.8 52 401.6 60.5 401.8 L68 396 L79 397.5 L89 371.5 H225 L215.5 396 C232 396 250 395.5 265 394.5 C277 393 287 389 293 384.5 C298 381 301 378 303.5 374 C305 382 304.5 391 301.5 399 L296 410 L60 410 L20 404 L-3 398 Z" fill="#2aa79b"/>
  <path d="M-3 393 L-3 386.3 C1 391.3 5 395.8 9.5 398.2 C18 401.6 26 402.6 34 403 C44 403.8 52 404.6 62 404.8 L69.5 399.3 L81.6 400.6 L91.4 374.6 H220.8 L211.2 399.1 C232 399.1 250 398.6 265 397.6 C277 396.2 288 392.2 294.8 387.8 C298 385.4 299.6 383.8 301.4 381.4 C301.8 386.6 301.4 392.4 299 398.6 L294 410 L60 410 L20 406 L-3 400 Z" fill="#ffffff"/>
  <filter id="fbheavy" x="-10%" y="-20%" width="120%" height="140%" color-interpolation-filters="sRGB">
    <feMorphology in="SourceAlpha" operator="dilate" radius="4.5 1.0" result="fat"/>
    <feMorphology in="fat" operator="dilate" radius="9" result="c1"/>
    <feMorphology in="c1" operator="erode" radius="9" result="closed"/>
    <feMorphology in="closed" operator="dilate" radius="1.7" result="ring"/>
    <feMorphology in="closed" operator="dilate" radius="3.3" result="ring2"/>
    <feFlood flood-color="#2aa79b"/><feComposite in2="ring2" operator="in" result="teal"/>
    <feFlood flood-color="#ffffff"/><feComposite in2="ring" operator="in" result="white"/>
    <feFlood flood-color="#123f9f"/><feComposite in2="fat" operator="in" result="blue"/>
    <feMerge><feMergeNode in="teal"/><feMergeNode in="white"/><feMergeNode in="blue"/></feMerge>
  </filter>
  <filter id="fbring" x="-20%" y="-20%" width="140%" height="140%" color-interpolation-filters="sRGB">
    <feMorphology in="SourceAlpha" operator="dilate" radius="1.6" result="ring"/>
    <feMorphology in="SourceAlpha" operator="dilate" radius="3.4" result="ring2"/>
    <feFlood flood-color="#2aa79b"/><feComposite in2="ring2" operator="in" result="teal"/>
    <feFlood flood-color="#ffffff"/><feComposite in2="ring" operator="in" result="white"/>
    <feMerge><feMergeNode in="teal"/><feMergeNode in="white"/><feMergeNode in="SourceGraphic"/></feMerge>
  </filter>
  <text y="469.4" font-size="90.8" font-weight="700" font-style="italic" fill="#123f9f" stroke="#123f9f" stroke-linejoin="miter" filter="url(#fbheavy)"><tspan x="4.5" textLength="52.5" lengthAdjust="spacingAndGlyphs" stroke-width="0.6">B</tspan><tspan x="61.5" textLength="39" lengthAdjust="spacingAndGlyphs" stroke-width="4.0">L</tspan><tspan x="99" textLength="47" lengthAdjust="spacingAndGlyphs" stroke-width="0">A</tspan><tspan x="152.5" textLength="45.5" lengthAdjust="spacingAndGlyphs" stroke-width="6.0">D</tspan><tspan x="206" textLength="31" lengthAdjust="spacingAndGlyphs" stroke-width="1.0">E</tspan><tspan x="242.5" textLength="36.5" lengthAdjust="spacingAndGlyphs" stroke-width="0">S</tspan></text>
  <path d="M100.2 447 L90.2 472" fill="none" stroke="#ffffff" stroke-width="1.9"/>
  <path d="M-4 389.8 C3 394.5 10 399 17 402.6 L26 404 L15 432 L10 419 C6 413 1 406 -4 399.5 Z" fill="#123f9f"/>
  <path d="M270 414 L273 405 H288 C294 402.5 299.5 396.5 302.5 388.5 C303.5 395 302 401 298 406.5 L291 414 Z" fill="#123f9f"/>
  <path d="M283 452 L293 452 L282 473 L266 473 L268 462 Z" fill="#123f9f"/>
  <path d="M80.5 399.5 L91.2 374.2 H221.8 L213 399.5 Z" fill="#ffffff"/>
  <g transform="translate(80.6 397.6) skewX(-9)">
    <text x="0" y="0" font-size="29.8" font-weight="700" font-style="italic" fill="#123f9f" stroke="#123f9f" stroke-width="2.6" textLength="127.5" lengthAdjust="spacingAndGlyphs">FREE</text>
  </g>
  <g transform="translate(292.5 431.5) rotate(-27)">
    <ellipse cx="0" cy="1" rx="19.5" ry="14.5" fill="#2aa79b"/>
    <ellipse cx="0" cy="1" rx="17.3" ry="12.3" fill="#ffffff"/>
    <path d="M-15 -3 V4 A15 7.5 0 0 0 15 4 V-3 Z" fill="#0c2f80"/>
    <ellipse cx="0" cy="-3" rx="15" ry="7.5" fill="#1a47ad"/>
    <ellipse cx="0" cy="-3" rx="10.5" ry="4.6" fill="none" stroke="#6f8fd6" stroke-width="0.8"/>
  </g>
</g>
<!-- red highlight frame -->
<rect x="312.1" y="3.65" width="310.15" height="319.8" fill="none" stroke="#ff0000" stroke-width="5.8"/>
</svg>
</body>
</html>
